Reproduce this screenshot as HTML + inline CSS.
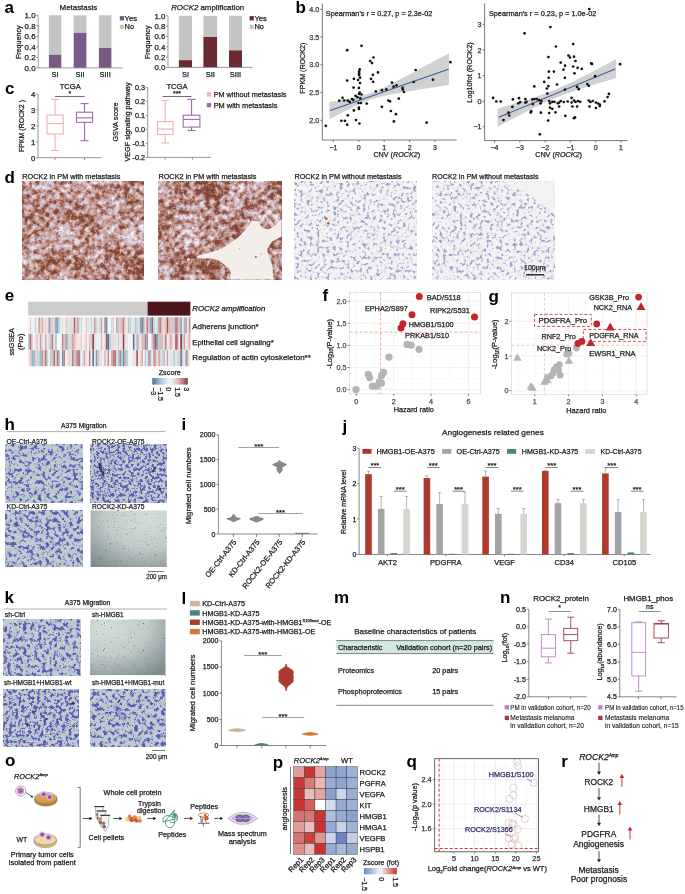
<!DOCTYPE html>
<html><head><meta charset="utf-8"><title>Figure</title>
<style>html,body{margin:0;padding:0;background:#fff;}svg{display:block;will-change:transform;}text{font-family:"Liberation Sans", sans-serif;}</style>
</head><body>
<svg width="685" height="894" viewBox="0 0 685 894" font-family='"Liberation Sans", sans-serif' fill="#1a1a1a">
<defs><filter id="ti0" x="0" y="0" width="1" height="1" color-interpolation-filters="sRGB"><feTurbulence type="fractalNoise" baseFrequency="0.2" numOctaves="3" seed="11"/><feColorMatrix type="matrix" values="1 0 0 0 0 1 0 0 0 0 1 0 0 0 0 0 0 0 0 1" result="g1"/><feTurbulence type="fractalNoise" baseFrequency="0.04" numOctaves="2" seed="111"/><feColorMatrix type="matrix" values="1 0 0 0 0 1 0 0 0 0 1 0 0 0 0 0 0 0 0 1" result="g2"/><feComposite in="g1" in2="g2" operator="arithmetic" k1="0" k2="0.8" k3="0.45" k4="-0.125"/><feColorMatrix type="matrix" values="2.2 0 0 0 -0.490 2.2 0 0 0 -0.490 2.2 0 0 0 -0.490 0 0 0 0 1"/><feComponentTransfer><feFuncR type="table" tableValues="0.949 0.931 0.914 0.896 0.878 0.863 0.847 0.831 0.820 0.808 0.796 0.776 0.757 0.736 0.707 0.679 0.651 0.616 0.580 0.545 0.510"/><feFuncG type="table" tableValues="0.925 0.902 0.878 0.855 0.831 0.805 0.779 0.753 0.719 0.685 0.651 0.612 0.573 0.533 0.494 0.455 0.416 0.378 0.341 0.304 0.267"/><feFuncB type="table" tableValues="0.937 0.921 0.904 0.887 0.871 0.839 0.808 0.776 0.727 0.677 0.627 0.571 0.515 0.462 0.421 0.379 0.337 0.304 0.271 0.237 0.204"/></feComponentTransfer><feGaussianBlur stdDeviation="0.4"/><feComponentTransfer><feFuncA type="linear" slope="0" intercept="1"/></feComponentTransfer></filter><filter id="tin0" x="0" y="0" width="1" height="1" color-interpolation-filters="sRGB"><feTurbulence type="fractalNoise" baseFrequency="0.45" numOctaves="2" seed="40"/><feColorMatrix type="matrix" values="0 0 0 0 0.667 0 0 0 0 0.627 0 0 0 0 0.816 5 0 0 0 -3.0"/></filter><filter id="ti1" x="0" y="0" width="1" height="1" color-interpolation-filters="sRGB"><feTurbulence type="fractalNoise" baseFrequency="0.2" numOctaves="3" seed="18"/><feColorMatrix type="matrix" values="1 0 0 0 0 1 0 0 0 0 1 0 0 0 0 0 0 0 0 1" result="g1"/><feTurbulence type="fractalNoise" baseFrequency="0.04" numOctaves="2" seed="118"/><feColorMatrix type="matrix" values="1 0 0 0 0 1 0 0 0 0 1 0 0 0 0 0 0 0 0 1" result="g2"/><feComposite in="g1" in2="g2" operator="arithmetic" k1="0" k2="0.8" k3="0.45" k4="-0.125"/><feColorMatrix type="matrix" values="2.2 0 0 0 -0.480 2.2 0 0 0 -0.480 2.2 0 0 0 -0.480 0 0 0 0 1"/><feComponentTransfer><feFuncR type="table" tableValues="0.949 0.931 0.914 0.896 0.878 0.863 0.847 0.831 0.820 0.808 0.796 0.776 0.757 0.736 0.707 0.679 0.651 0.616 0.580 0.545 0.510"/><feFuncG type="table" tableValues="0.925 0.902 0.878 0.855 0.831 0.805 0.779 0.753 0.719 0.685 0.651 0.612 0.573 0.533 0.494 0.455 0.416 0.378 0.341 0.304 0.267"/><feFuncB type="table" tableValues="0.937 0.921 0.904 0.887 0.871 0.839 0.808 0.776 0.727 0.677 0.627 0.571 0.515 0.462 0.421 0.379 0.337 0.304 0.271 0.237 0.204"/></feComponentTransfer><feGaussianBlur stdDeviation="0.4"/><feComponentTransfer><feFuncA type="linear" slope="0" intercept="1"/></feComponentTransfer></filter><filter id="tin1" x="0" y="0" width="1" height="1" color-interpolation-filters="sRGB"><feTurbulence type="fractalNoise" baseFrequency="0.45" numOctaves="2" seed="41"/><feColorMatrix type="matrix" values="0 0 0 0 0.667 0 0 0 0 0.627 0 0 0 0 0.816 5 0 0 0 -3.0"/></filter><filter id="ti2" x="0" y="0" width="1" height="1" color-interpolation-filters="sRGB"><feTurbulence type="fractalNoise" baseFrequency="0.3" numOctaves="2" seed="65"/><feColorMatrix type="matrix" values="2.6 0 0 0 -0.880 2.6 0 0 0 -0.880 2.6 0 0 0 -0.880 0 0 0 0 1"/><feComponentTransfer><feFuncR type="table" tableValues="0.965 0.962 0.960 0.958 0.956 0.953 0.951 0.949 0.947 0.944 0.942 0.924 0.894 0.865 0.833 0.799 0.765 0.730 0.696 0.662 0.627"/><feFuncG type="table" tableValues="0.957 0.955 0.952 0.950 0.948 0.946 0.943 0.941 0.939 0.937 0.934 0.917 0.890 0.863 0.834 0.801 0.768 0.735 0.701 0.668 0.635"/><feFuncB type="table" tableValues="0.953 0.952 0.951 0.951 0.950 0.949 0.948 0.948 0.947 0.946 0.945 0.940 0.931 0.923 0.911 0.894 0.876 0.859 0.839 0.820 0.800"/></feComponentTransfer><feGaussianBlur stdDeviation="0.45"/><feComponentTransfer><feFuncA type="linear" slope="0" intercept="1"/></feComponentTransfer></filter><filter id="ti3" x="0" y="0" width="1" height="1" color-interpolation-filters="sRGB"><feTurbulence type="fractalNoise" baseFrequency="0.3" numOctaves="2" seed="72"/><feColorMatrix type="matrix" values="2.6 0 0 0 -0.870 2.6 0 0 0 -0.870 2.6 0 0 0 -0.870 0 0 0 0 1"/><feComponentTransfer><feFuncR type="table" tableValues="0.965 0.962 0.960 0.958 0.956 0.953 0.951 0.949 0.947 0.944 0.942 0.924 0.894 0.865 0.833 0.799 0.765 0.730 0.696 0.662 0.627"/><feFuncG type="table" tableValues="0.957 0.955 0.952 0.950 0.948 0.946 0.943 0.941 0.939 0.937 0.934 0.917 0.890 0.863 0.834 0.801 0.768 0.735 0.701 0.668 0.635"/><feFuncB type="table" tableValues="0.953 0.952 0.951 0.951 0.950 0.949 0.948 0.948 0.947 0.946 0.945 0.940 0.931 0.923 0.911 0.894 0.876 0.859 0.839 0.820 0.800"/></feComponentTransfer><feGaussianBlur stdDeviation="0.45"/><feComponentTransfer><feFuncA type="linear" slope="0" intercept="1"/></feComponentTransfer></filter><linearGradient id="gz" x1="0" x2="1" y1="0" y2="0"><stop offset="0.000" stop-color="#4a6f9a"/><stop offset="0.250" stop-color="#aacad6"/><stop offset="0.500" stop-color="#f6f7f7"/><stop offset="0.750" stop-color="#deb2b2"/><stop offset="1.000" stop-color="#8c3a42"/></linearGradient><filter id="tm0" x="0" y="0" width="1" height="1" color-interpolation-filters="sRGB"><feTurbulence type="fractalNoise" baseFrequency="0.26" numOctaves="3" seed="91"/><feColorMatrix type="matrix" values="3.0 0 0 0 -1.078 3.0 0 0 0 -1.078 3.0 0 0 0 -1.078 0 0 0 0 1"/><feComponentTransfer><feFuncR type="table" tableValues="0.753 0.749 0.745 0.741 0.737 0.733 0.729 0.725 0.722 0.718 0.714 0.679 0.631 0.563 0.522 0.489 0.455 0.431 0.408 0.384 0.361"/><feFuncG type="table" tableValues="0.808 0.805 0.802 0.798 0.795 0.792 0.789 0.786 0.783 0.780 0.776 0.723 0.655 0.567 0.520 0.483 0.447 0.424 0.400 0.376 0.353"/><feFuncB type="table" tableValues="0.820 0.817 0.814 0.811 0.809 0.806 0.803 0.800 0.798 0.795 0.792 0.807 0.812 0.802 0.789 0.775 0.761 0.745 0.729 0.714 0.698"/></feComponentTransfer><feGaussianBlur stdDeviation="0.5"/><feComponentTransfer><feFuncA type="linear" slope="0" intercept="1"/></feComponentTransfer></filter><filter id="tms0" x="0" y="0" width="1" height="1" color-interpolation-filters="sRGB"><feTurbulence type="fractalNoise" baseFrequency="0.9" numOctaves="1" seed="120"/><feColorMatrix type="matrix" values="0 0 0 0 0.275 0 0 0 0 0.275 0 0 0 0 0.471 9 0 0 0 -6.2"/></filter><filter id="tm1" x="0" y="0" width="1" height="1" color-interpolation-filters="sRGB"><feTurbulence type="fractalNoise" baseFrequency="0.35" numOctaves="3" seed="96"/><feColorMatrix type="matrix" values="3.0 0 0 0 -0.974 3.0 0 0 0 -0.974 3.0 0 0 0 -0.974 0 0 0 0 1"/><feComponentTransfer><feFuncR type="table" tableValues="0.753 0.749 0.745 0.741 0.737 0.733 0.729 0.725 0.722 0.718 0.714 0.679 0.631 0.563 0.522 0.489 0.455 0.431 0.408 0.384 0.361"/><feFuncG type="table" tableValues="0.808 0.805 0.802 0.798 0.795 0.792 0.789 0.786 0.783 0.780 0.776 0.723 0.655 0.567 0.520 0.483 0.447 0.424 0.400 0.376 0.353"/><feFuncB type="table" tableValues="0.820 0.817 0.814 0.811 0.809 0.806 0.803 0.800 0.798 0.795 0.792 0.807 0.812 0.802 0.789 0.775 0.761 0.745 0.729 0.714 0.698"/></feComponentTransfer><feGaussianBlur stdDeviation="0.5"/><feComponentTransfer><feFuncA type="linear" slope="0" intercept="1"/></feComponentTransfer></filter><filter id="tms1" x="0" y="0" width="1" height="1" color-interpolation-filters="sRGB"><feTurbulence type="fractalNoise" baseFrequency="0.9" numOctaves="1" seed="121"/><feColorMatrix type="matrix" values="0 0 0 0 0.275 0 0 0 0 0.275 0 0 0 0 0.471 9 0 0 0 -6.2"/></filter><filter id="tm2" x="0" y="0" width="1" height="1" color-interpolation-filters="sRGB"><feTurbulence type="fractalNoise" baseFrequency="0.26" numOctaves="3" seed="101"/><feColorMatrix type="matrix" values="3.0 0 0 0 -1.078 3.0 0 0 0 -1.078 3.0 0 0 0 -1.078 0 0 0 0 1"/><feComponentTransfer><feFuncR type="table" tableValues="0.753 0.749 0.745 0.741 0.737 0.733 0.729 0.725 0.722 0.718 0.714 0.679 0.631 0.563 0.522 0.489 0.455 0.431 0.408 0.384 0.361"/><feFuncG type="table" tableValues="0.808 0.805 0.802 0.798 0.795 0.792 0.789 0.786 0.783 0.780 0.776 0.723 0.655 0.567 0.520 0.483 0.447 0.424 0.400 0.376 0.353"/><feFuncB type="table" tableValues="0.820 0.817 0.814 0.811 0.809 0.806 0.803 0.800 0.798 0.795 0.792 0.807 0.812 0.802 0.789 0.775 0.761 0.745 0.729 0.714 0.698"/></feComponentTransfer><feGaussianBlur stdDeviation="0.5"/><feComponentTransfer><feFuncA type="linear" slope="0" intercept="1"/></feComponentTransfer></filter><filter id="tms2" x="0" y="0" width="1" height="1" color-interpolation-filters="sRGB"><feTurbulence type="fractalNoise" baseFrequency="0.9" numOctaves="1" seed="122"/><feColorMatrix type="matrix" values="0 0 0 0 0.275 0 0 0 0 0.275 0 0 0 0 0.471 9 0 0 0 -6.2"/></filter><radialGradient id="gm3" cx="0.75" cy="0.1" r="1.1"><stop offset="0" stop-color="#d4ddd9"/><stop offset="0.5" stop-color="#c2cdca"/><stop offset="1" stop-color="#7e8c8c"/></radialGradient><filter id="nm3a" x="0" y="0" width="1" height="1" color-interpolation-filters="sRGB"><feTurbulence type="fractalNoise" baseFrequency="0.7" numOctaves="1" seed="73"/><feColorMatrix type="matrix" values="0 0 0 0 0.471 0 0 0 0 0.471 0 0 0 0 0.745 7 0 0 0 -4.7"/></filter><filter id="nm3b" x="0" y="0" width="1" height="1" color-interpolation-filters="sRGB"><feTurbulence type="fractalNoise" baseFrequency="0.6" numOctaves="1" seed="83"/><feColorMatrix type="matrix" values="0 0 0 0 0.196 0 0 0 0 0.196 0 0 0 0 0.275 8 0 0 0 -5.8"/></filter><filter id="tm4" x="0" y="0" width="1" height="1" color-interpolation-filters="sRGB"><feTurbulence type="fractalNoise" baseFrequency="0.26" numOctaves="3" seed="111"/><feColorMatrix type="matrix" values="3.0 0 0 0 -1.078 3.0 0 0 0 -1.078 3.0 0 0 0 -1.078 0 0 0 0 1"/><feComponentTransfer><feFuncR type="table" tableValues="0.753 0.749 0.745 0.741 0.737 0.733 0.729 0.725 0.722 0.718 0.714 0.679 0.631 0.563 0.522 0.489 0.455 0.431 0.408 0.384 0.361"/><feFuncG type="table" tableValues="0.808 0.805 0.802 0.798 0.795 0.792 0.789 0.786 0.783 0.780 0.776 0.723 0.655 0.567 0.520 0.483 0.447 0.424 0.400 0.376 0.353"/><feFuncB type="table" tableValues="0.820 0.817 0.814 0.811 0.809 0.806 0.803 0.800 0.798 0.795 0.792 0.807 0.812 0.802 0.789 0.775 0.761 0.745 0.729 0.714 0.698"/></feComponentTransfer><feGaussianBlur stdDeviation="0.5"/><feComponentTransfer><feFuncA type="linear" slope="0" intercept="1"/></feComponentTransfer></filter><filter id="tms4" x="0" y="0" width="1" height="1" color-interpolation-filters="sRGB"><feTurbulence type="fractalNoise" baseFrequency="0.9" numOctaves="1" seed="124"/><feColorMatrix type="matrix" values="0 0 0 0 0.275 0 0 0 0 0.275 0 0 0 0 0.471 9 0 0 0 -6.2"/></filter><radialGradient id="gm5" cx="0.2" cy="0.1" r="1.1"><stop offset="0" stop-color="#d4ddd9"/><stop offset="0.5" stop-color="#c2cdca"/><stop offset="1" stop-color="#7e8c8c"/></radialGradient><filter id="nm5a" x="0" y="0" width="1" height="1" color-interpolation-filters="sRGB"><feTurbulence type="fractalNoise" baseFrequency="0.7" numOctaves="1" seed="75"/><feColorMatrix type="matrix" values="0 0 0 0 0.471 0 0 0 0 0.471 0 0 0 0 0.745 7 0 0 0 -4.7"/></filter><filter id="nm5b" x="0" y="0" width="1" height="1" color-interpolation-filters="sRGB"><feTurbulence type="fractalNoise" baseFrequency="0.6" numOctaves="1" seed="85"/><feColorMatrix type="matrix" values="0 0 0 0 0.196 0 0 0 0 0.196 0 0 0 0 0.275 8 0 0 0 -5.8"/></filter><filter id="tm6" x="0" y="0" width="1" height="1" color-interpolation-filters="sRGB"><feTurbulence type="fractalNoise" baseFrequency="0.32" numOctaves="3" seed="121"/><feColorMatrix type="matrix" values="3.0 0 0 0 -0.997 3.0 0 0 0 -0.997 3.0 0 0 0 -0.997 0 0 0 0 1"/><feComponentTransfer><feFuncR type="table" tableValues="0.753 0.749 0.745 0.741 0.737 0.733 0.729 0.725 0.722 0.718 0.714 0.679 0.631 0.563 0.522 0.489 0.455 0.431 0.408 0.384 0.361"/><feFuncG type="table" tableValues="0.808 0.805 0.802 0.798 0.795 0.792 0.789 0.786 0.783 0.780 0.776 0.723 0.655 0.567 0.520 0.483 0.447 0.424 0.400 0.376 0.353"/><feFuncB type="table" tableValues="0.820 0.817 0.814 0.811 0.809 0.806 0.803 0.800 0.798 0.795 0.792 0.807 0.812 0.802 0.789 0.775 0.761 0.745 0.729 0.714 0.698"/></feComponentTransfer><feGaussianBlur stdDeviation="0.5"/><feComponentTransfer><feFuncA type="linear" slope="0" intercept="1"/></feComponentTransfer></filter><filter id="tms6" x="0" y="0" width="1" height="1" color-interpolation-filters="sRGB"><feTurbulence type="fractalNoise" baseFrequency="0.9" numOctaves="1" seed="126"/><feColorMatrix type="matrix" values="0 0 0 0 0.275 0 0 0 0 0.275 0 0 0 0 0.471 9 0 0 0 -6.2"/></filter><filter id="tm7" x="0" y="0" width="1" height="1" color-interpolation-filters="sRGB"><feTurbulence type="fractalNoise" baseFrequency="0.26" numOctaves="3" seed="126"/><feColorMatrix type="matrix" values="3.0 0 0 0 -1.078 3.0 0 0 0 -1.078 3.0 0 0 0 -1.078 0 0 0 0 1"/><feComponentTransfer><feFuncR type="table" tableValues="0.753 0.749 0.745 0.741 0.737 0.733 0.729 0.725 0.722 0.718 0.714 0.679 0.631 0.563 0.522 0.489 0.455 0.431 0.408 0.384 0.361"/><feFuncG type="table" tableValues="0.808 0.805 0.802 0.798 0.795 0.792 0.789 0.786 0.783 0.780 0.776 0.723 0.655 0.567 0.520 0.483 0.447 0.424 0.400 0.376 0.353"/><feFuncB type="table" tableValues="0.820 0.817 0.814 0.811 0.809 0.806 0.803 0.800 0.798 0.795 0.792 0.807 0.812 0.802 0.789 0.775 0.761 0.745 0.729 0.714 0.698"/></feComponentTransfer><feGaussianBlur stdDeviation="0.5"/><feComponentTransfer><feFuncA type="linear" slope="0" intercept="1"/></feComponentTransfer></filter><filter id="tms7" x="0" y="0" width="1" height="1" color-interpolation-filters="sRGB"><feTurbulence type="fractalNoise" baseFrequency="0.9" numOctaves="1" seed="127"/><feColorMatrix type="matrix" values="0 0 0 0 0.275 0 0 0 0 0.275 0 0 0 0 0.471 9 0 0 0 -6.2"/></filter><linearGradient id="gp" x1="0" x2="1"><stop offset="0" stop-color="#6a8bc6"/><stop offset="0.5" stop-color="#f7f7f7"/><stop offset="1" stop-color="#cc3333"/></linearGradient></defs>
<text x="4.6" y="13.2" font-size="17" fill="#000" font-weight="bold">a</text>
<text x="59.6" y="9.9" font-size="7.9" stroke="#1a1a1a" stroke-width="0.25" textLength="37.7" lengthAdjust="spacingAndGlyphs">Metastasis</text>
<line x1="38.2" y1="15.3" x2="38.2" y2="67.9" stroke="#8c8c8c" stroke-width="0.9"/>
<line x1="36.2" y1="67.9" x2="38.2" y2="67.9" stroke="#8c8c8c" stroke-width="0.9"/>
<text x="35.6" y="70.74" font-size="7.9" text-anchor="end" stroke="#1a1a1a" stroke-width="0.25">0.0</text>
<line x1="36.2" y1="57.38" x2="38.2" y2="57.38" stroke="#8c8c8c" stroke-width="0.9"/>
<text x="35.6" y="60.22" font-size="7.9" text-anchor="end" stroke="#1a1a1a" stroke-width="0.25">0.2</text>
<line x1="36.2" y1="46.86" x2="38.2" y2="46.86" stroke="#8c8c8c" stroke-width="0.9"/>
<text x="35.6" y="49.7" font-size="7.9" text-anchor="end" stroke="#1a1a1a" stroke-width="0.25">0.4</text>
<line x1="36.2" y1="36.34" x2="38.2" y2="36.34" stroke="#8c8c8c" stroke-width="0.9"/>
<text x="35.6" y="39.18" font-size="7.9" text-anchor="end" stroke="#1a1a1a" stroke-width="0.25">0.6</text>
<line x1="36.2" y1="25.82" x2="38.2" y2="25.82" stroke="#8c8c8c" stroke-width="0.9"/>
<text x="35.6" y="28.66" font-size="7.9" text-anchor="end" stroke="#1a1a1a" stroke-width="0.25">0.8</text>
<line x1="36.2" y1="15.3" x2="38.2" y2="15.3" stroke="#8c8c8c" stroke-width="0.9"/>
<text x="35.6" y="18.14" font-size="7.9" text-anchor="end" stroke="#1a1a1a" stroke-width="0.25">1.0</text>
<text x="20.6" y="42.3" font-size="7.2" text-anchor="middle" stroke="#1a1a1a" stroke-width="0.25" transform="rotate(-90 20.6 42.3)" textLength="33.6" lengthAdjust="spacingAndGlyphs">Frequency</text>
<rect x="48.9" y="15.3" width="12.4" height="39.45" fill="#c4c4c4"/>
<rect x="48.9" y="54.75" width="12.4" height="13.15" fill="#7a5a85"/>
<text x="55.1" y="77" font-size="7.5" text-anchor="middle" stroke="#1a1a1a" stroke-width="0.25">SI</text>
<rect x="73.7" y="15.3" width="12.7" height="17.52" fill="#c4c4c4"/>
<rect x="73.7" y="32.82" width="12.7" height="35.08" fill="#7a5a85"/>
<text x="80.05" y="77" font-size="7.5" text-anchor="middle" stroke="#1a1a1a" stroke-width="0.25">SII</text>
<rect x="98.9" y="15.3" width="12.5" height="32.61" fill="#c4c4c4"/>
<rect x="98.9" y="47.91" width="12.5" height="19.99" fill="#7a5a85"/>
<text x="105.15" y="77" font-size="7.5" text-anchor="middle" stroke="#1a1a1a" stroke-width="0.25">SIII</text>
<line x1="38.2" y1="67.9" x2="122.6" y2="67.9" stroke="#8c8c8c" stroke-width="0.9"/>
<rect x="119.8" y="16.1" width="4.2" height="4.3" fill="#7a5a85"/>
<text x="124.6" y="20.6" font-size="7.4" stroke="#1a1a1a" stroke-width="0.25" textLength="12.6" lengthAdjust="spacingAndGlyphs">Yes</text>
<rect x="119.8" y="24.8" width="4.2" height="4.3" fill="#c4c4c4"/>
<text x="124.6" y="29.3" font-size="7.4" stroke="#1a1a1a" stroke-width="0.25">No</text>
<text x="171.2" y="9.9" font-size="7.9" stroke="#1a1a1a" stroke-width="0.25" textLength="73" lengthAdjust="spacingAndGlyphs"><tspan font-style="italic">ROCK2</tspan> amplification</text>
<line x1="168" y1="15.8" x2="168" y2="67.4" stroke="#8c8c8c" stroke-width="0.9"/>
<line x1="166" y1="67.4" x2="168" y2="67.4" stroke="#8c8c8c" stroke-width="0.9"/>
<text x="165.4" y="70.24" font-size="7.9" text-anchor="end" stroke="#1a1a1a" stroke-width="0.25">0.0</text>
<line x1="166" y1="57.08" x2="168" y2="57.08" stroke="#8c8c8c" stroke-width="0.9"/>
<text x="165.4" y="59.92" font-size="7.9" text-anchor="end" stroke="#1a1a1a" stroke-width="0.25">0.2</text>
<line x1="166" y1="46.76" x2="168" y2="46.76" stroke="#8c8c8c" stroke-width="0.9"/>
<text x="165.4" y="49.6" font-size="7.9" text-anchor="end" stroke="#1a1a1a" stroke-width="0.25">0.4</text>
<line x1="166" y1="36.44" x2="168" y2="36.44" stroke="#8c8c8c" stroke-width="0.9"/>
<text x="165.4" y="39.28" font-size="7.9" text-anchor="end" stroke="#1a1a1a" stroke-width="0.25">0.6</text>
<line x1="166" y1="26.12" x2="168" y2="26.12" stroke="#8c8c8c" stroke-width="0.9"/>
<text x="165.4" y="28.96" font-size="7.9" text-anchor="end" stroke="#1a1a1a" stroke-width="0.25">0.8</text>
<line x1="166" y1="15.8" x2="168" y2="15.8" stroke="#8c8c8c" stroke-width="0.9"/>
<text x="165.4" y="18.64" font-size="7.9" text-anchor="end" stroke="#1a1a1a" stroke-width="0.25">1.0</text>
<text x="150.2" y="42.3" font-size="7.2" text-anchor="middle" stroke="#1a1a1a" stroke-width="0.25" transform="rotate(-90 150.2 42.3)" textLength="33.6" lengthAdjust="spacingAndGlyphs">Frequency</text>
<rect x="178.9" y="15.8" width="13.1" height="44.38" fill="#c4c4c4"/>
<rect x="178.9" y="60.18" width="13.1" height="7.22" fill="#6b2b33"/>
<text x="185.45" y="77" font-size="7.5" text-anchor="middle" stroke="#1a1a1a" stroke-width="0.25">SI</text>
<rect x="203.4" y="15.8" width="13.7" height="21.16" fill="#c4c4c4"/>
<rect x="203.4" y="36.96" width="13.7" height="30.44" fill="#6b2b33"/>
<text x="210.25" y="77" font-size="7.5" text-anchor="middle" stroke="#1a1a1a" stroke-width="0.25">SII</text>
<rect x="229" y="15.8" width="13" height="34.57" fill="#c4c4c4"/>
<rect x="229" y="50.37" width="13" height="17.03" fill="#6b2b33"/>
<text x="235.5" y="77" font-size="7.5" text-anchor="middle" stroke="#1a1a1a" stroke-width="0.25">SIII</text>
<line x1="168" y1="67.4" x2="252.5" y2="67.4" stroke="#8c8c8c" stroke-width="0.9"/>
<rect x="249.6" y="16.1" width="4.2" height="4.3" fill="#6b2b33"/>
<text x="254.4" y="20.6" font-size="7.4" stroke="#1a1a1a" stroke-width="0.25" textLength="12.6" lengthAdjust="spacingAndGlyphs">Yes</text>
<rect x="249.6" y="24.8" width="4.2" height="4.3" fill="#c4c4c4"/>
<text x="254.4" y="29.3" font-size="7.4" stroke="#1a1a1a" stroke-width="0.25">No</text>
<text x="295.6" y="13.4" font-size="17" fill="#000" font-weight="bold">b</text>
<path d="M329.5,102.05 L334.48,101.21 L339.46,100.34 L344.44,99.44 L349.42,98.5 L354.4,97.47 L359.38,96.34 L364.35,95.02 L369.33,93.47 L374.31,91.63 L379.29,89.53 L384.27,87.24 L389.25,84.82 L394.23,82.32 L399.21,79.76 L404.19,77.16 L409.17,74.54 L414.15,71.91 L419.12,69.25 L424.1,66.59 L429.08,63.92 L434.06,61.25 L439.04,58.57 L444.02,55.88 L449,53.2 L449,84.85 L444.02,85.64 L439.04,86.42 L434.06,87.21 L429.08,88 L424.1,88.8 L419.12,89.61 L414.15,90.42 L409.17,91.25 L404.19,92.1 L399.21,92.97 L394.23,93.88 L389.25,94.85 L384.27,95.89 L379.29,97.07 L374.31,98.44 L369.33,100.07 L364.35,101.99 L359.38,104.14 L354.4,106.47 L349.42,108.92 L344.44,111.44 L339.46,114.01 L334.48,116.61 L329.5,119.24 Z" fill="#d1d1d1"/>
<line x1="330.2" y1="110.4" x2="448.5" y2="69.2" stroke="#3b5ba5" stroke-width="1.1"/>
<circle cx="361.5" cy="45.8" r="1.35" fill="#111"/>
<circle cx="347.2" cy="50.2" r="1.35" fill="#111"/>
<circle cx="373.5" cy="57.5" r="1.35" fill="#111"/>
<circle cx="370.2" cy="61" r="1.35" fill="#111"/>
<circle cx="372" cy="63.1" r="1.35" fill="#111"/>
<circle cx="359.7" cy="69.4" r="1.35" fill="#111"/>
<circle cx="359.1" cy="71.5" r="1.35" fill="#111"/>
<circle cx="359.1" cy="73.3" r="1.35" fill="#111"/>
<circle cx="359.1" cy="75" r="1.35" fill="#111"/>
<circle cx="378" cy="72.4" r="1.35" fill="#111"/>
<circle cx="372.9" cy="74.8" r="1.35" fill="#111"/>
<circle cx="353.9" cy="78.8" r="1.35" fill="#111"/>
<circle cx="360" cy="77.7" r="1.35" fill="#111"/>
<circle cx="358" cy="80" r="1.35" fill="#111"/>
<circle cx="347.2" cy="80.6" r="1.35" fill="#111"/>
<circle cx="371" cy="78.8" r="1.35" fill="#111"/>
<circle cx="373.1" cy="81.8" r="1.35" fill="#111"/>
<circle cx="360" cy="83" r="1.35" fill="#111"/>
<circle cx="353.6" cy="87.6" r="1.35" fill="#111"/>
<circle cx="358.9" cy="87.9" r="1.35" fill="#111"/>
<circle cx="392" cy="82.6" r="1.35" fill="#111"/>
<circle cx="393.6" cy="86.7" r="1.35" fill="#111"/>
<circle cx="396.5" cy="85.3" r="1.35" fill="#111"/>
<circle cx="375.8" cy="91.4" r="1.35" fill="#111"/>
<circle cx="381.9" cy="90.2" r="1.35" fill="#111"/>
<circle cx="386.3" cy="89.4" r="1.35" fill="#111"/>
<circle cx="359.7" cy="92.6" r="1.35" fill="#111"/>
<circle cx="359.1" cy="94" r="1.35" fill="#111"/>
<circle cx="361.5" cy="94.5" r="1.35" fill="#111"/>
<circle cx="355.6" cy="95.8" r="1.35" fill="#111"/>
<circle cx="342.5" cy="97.8" r="1.35" fill="#111"/>
<circle cx="339.3" cy="100.7" r="1.35" fill="#111"/>
<circle cx="344.2" cy="100.5" r="1.35" fill="#111"/>
<circle cx="347.8" cy="100.7" r="1.35" fill="#111"/>
<circle cx="349.8" cy="101.9" r="1.35" fill="#111"/>
<circle cx="352.1" cy="99" r="1.35" fill="#111"/>
<circle cx="353.3" cy="100.1" r="1.35" fill="#111"/>
<circle cx="357.4" cy="97.2" r="1.35" fill="#111"/>
<circle cx="360.3" cy="98.4" r="1.35" fill="#111"/>
<circle cx="358.5" cy="103" r="1.35" fill="#111"/>
<circle cx="360.9" cy="103" r="1.35" fill="#111"/>
<circle cx="366.7" cy="103.6" r="1.35" fill="#111"/>
<circle cx="388.3" cy="100.5" r="1.35" fill="#111"/>
<circle cx="390" cy="101.3" r="1.35" fill="#111"/>
<circle cx="398.8" cy="98.6" r="1.35" fill="#111"/>
<circle cx="381.9" cy="106.8" r="1.35" fill="#111"/>
<circle cx="358.9" cy="107.5" r="1.35" fill="#111"/>
<circle cx="358.9" cy="108.9" r="1.35" fill="#111"/>
<circle cx="353.9" cy="110.4" r="1.35" fill="#111"/>
<circle cx="347.8" cy="115.3" r="1.35" fill="#111"/>
<circle cx="390.9" cy="111" r="1.35" fill="#111"/>
<circle cx="395.9" cy="114.2" r="1.35" fill="#111"/>
<circle cx="341.4" cy="120.8" r="1.35" fill="#111"/>
<circle cx="344.9" cy="120.8" r="1.35" fill="#111"/>
<circle cx="356" cy="120" r="1.35" fill="#111"/>
<circle cx="347.2" cy="124.7" r="1.35" fill="#111"/>
<circle cx="359.4" cy="123.5" r="1.35" fill="#111"/>
<circle cx="325.8" cy="125.8" r="1.35" fill="#111"/>
<circle cx="393.9" cy="121.4" r="1.35" fill="#111"/>
<circle cx="450.4" cy="62.2" r="1.35" fill="#111"/>
<circle cx="415.7" cy="70" r="1.35" fill="#111"/>
<circle cx="432.9" cy="79.7" r="1.35" fill="#111"/>
<circle cx="413.7" cy="82" r="1.35" fill="#111"/>
<circle cx="402.6" cy="87.9" r="1.35" fill="#111"/>
<circle cx="402.8" cy="89.6" r="1.35" fill="#111"/>
<circle cx="404" cy="92" r="1.35" fill="#111"/>
<circle cx="426.6" cy="122.7" r="1.35" fill="#111"/>
<line x1="322.3" y1="3.5" x2="322.3" y2="140" stroke="#555" stroke-width="0.8"/>
<line x1="322.3" y1="140" x2="456.6" y2="140" stroke="#555" stroke-width="0.8"/>
<line x1="320.3" y1="120.3" x2="322.3" y2="120.3" stroke="#555" stroke-width="0.8"/>
<text x="319.3" y="122.9" font-size="7.2" text-anchor="end" fill="#333" stroke="#333" stroke-width="0.25">2.0</text>
<line x1="320.3" y1="92.55" x2="322.3" y2="92.55" stroke="#555" stroke-width="0.8"/>
<text x="319.3" y="95.15" font-size="7.2" text-anchor="end" fill="#333" stroke="#333" stroke-width="0.25">2.5</text>
<line x1="320.3" y1="64.8" x2="322.3" y2="64.8" stroke="#555" stroke-width="0.8"/>
<text x="319.3" y="67.4" font-size="7.2" text-anchor="end" fill="#333" stroke="#333" stroke-width="0.25">3.0</text>
<line x1="320.3" y1="37.05" x2="322.3" y2="37.05" stroke="#555" stroke-width="0.8"/>
<text x="319.3" y="39.65" font-size="7.2" text-anchor="end" fill="#333" stroke="#333" stroke-width="0.25">3.5</text>
<line x1="320.3" y1="9.3" x2="322.3" y2="9.3" stroke="#555" stroke-width="0.8"/>
<text x="319.3" y="11.9" font-size="7.2" text-anchor="end" fill="#333" stroke="#333" stroke-width="0.25">4.0</text>
<line x1="333.4" y1="140" x2="333.4" y2="142" stroke="#555" stroke-width="0.8"/>
<text x="333.4" y="150" font-size="7" text-anchor="middle" fill="#333" stroke="#333" stroke-width="0.25">−1</text>
<line x1="358.8" y1="140" x2="358.8" y2="142" stroke="#555" stroke-width="0.8"/>
<text x="358.8" y="150" font-size="7" text-anchor="middle" fill="#333" stroke="#333" stroke-width="0.25">0</text>
<line x1="384.2" y1="140" x2="384.2" y2="142" stroke="#555" stroke-width="0.8"/>
<text x="384.2" y="150" font-size="7" text-anchor="middle" fill="#333" stroke="#333" stroke-width="0.25">1</text>
<line x1="409.6" y1="140" x2="409.6" y2="142" stroke="#555" stroke-width="0.8"/>
<text x="409.6" y="150" font-size="7" text-anchor="middle" fill="#333" stroke="#333" stroke-width="0.25">2</text>
<line x1="435" y1="140" x2="435" y2="142" stroke="#555" stroke-width="0.8"/>
<text x="435" y="150" font-size="7" text-anchor="middle" fill="#333" stroke="#333" stroke-width="0.25">3</text>
<text x="325.8" y="16.2" font-size="7.2" stroke="#1a1a1a" stroke-width="0.25" textLength="106.6" lengthAdjust="spacingAndGlyphs">Spearman's r = 0.27, p = 2.3e-02</text>
<text x="305" y="68.2" font-size="7.4" text-anchor="middle" fill="#222" stroke="#222" stroke-width="0.25" transform="rotate(-90 305 68.2)" textLength="51" lengthAdjust="spacingAndGlyphs">FPKM (ROCK2)</text>
<text x="396.8" y="157.4" font-size="7.2" text-anchor="middle" fill="#222" stroke="#222" stroke-width="0.25">CNV (<tspan font-style="italic">ROCK2</tspan>)</text>
<path d="M497.5,108.79 L502.44,107.33 L507.38,105.86 L512.31,104.37 L517.25,102.86 L522.19,101.32 L527.12,99.75 L532.06,98.13 L537,96.45 L541.94,94.7 L546.88,92.87 L551.81,90.94 L556.75,88.91 L561.69,86.76 L566.62,84.52 L571.56,82.18 L576.5,79.77 L581.44,77.3 L586.38,74.78 L591.31,72.23 L596.25,69.64 L601.19,67.03 L606.12,64.4 L611.06,61.76 L616,59.1 L616,78.07 L611.06,79.52 L606.12,80.98 L601.19,82.45 L596.25,83.95 L591.31,85.46 L586.38,87.01 L581.44,88.6 L576.5,90.23 L571.56,91.93 L566.62,93.7 L561.69,95.56 L556.75,97.52 L551.81,99.59 L546.88,101.76 L541.94,104.03 L537,106.39 L532.06,108.82 L527.12,111.31 L522.19,113.84 L517.25,116.4 L512.31,119 L507.38,121.61 L502.44,124.25 L497.5,126.89 Z" fill="#d1d1d1"/>
<line x1="498.8" y1="117.3" x2="615" y2="69" stroke="#3b5ba5" stroke-width="1.1"/>
<circle cx="550.4" cy="27.1" r="1.35" fill="#111"/>
<circle cx="524.6" cy="33.3" r="1.35" fill="#111"/>
<circle cx="555.9" cy="46.5" r="1.35" fill="#111"/>
<circle cx="548.4" cy="57.1" r="1.35" fill="#111"/>
<circle cx="548.9" cy="71.6" r="1.35" fill="#111"/>
<circle cx="553.9" cy="71.6" r="1.35" fill="#111"/>
<circle cx="548.7" cy="77.8" r="1.35" fill="#111"/>
<circle cx="544.2" cy="81.9" r="1.35" fill="#111"/>
<circle cx="557" cy="84.5" r="1.35" fill="#111"/>
<circle cx="548.4" cy="86.1" r="1.35" fill="#111"/>
<circle cx="546.8" cy="88.5" r="1.35" fill="#111"/>
<circle cx="534.3" cy="86.4" r="1.35" fill="#111"/>
<circle cx="547.3" cy="93.5" r="1.35" fill="#111"/>
<circle cx="493.1" cy="97.9" r="1.35" fill="#111"/>
<circle cx="496.3" cy="101.5" r="1.35" fill="#111"/>
<circle cx="500.7" cy="101.5" r="1.35" fill="#111"/>
<circle cx="512.9" cy="99.4" r="1.35" fill="#111"/>
<circle cx="519" cy="98.2" r="1.35" fill="#111"/>
<circle cx="518.3" cy="103.3" r="1.35" fill="#111"/>
<circle cx="520.2" cy="102.1" r="1.35" fill="#111"/>
<circle cx="525.4" cy="99" r="1.35" fill="#111"/>
<circle cx="525.4" cy="102.6" r="1.35" fill="#111"/>
<circle cx="526.5" cy="101.8" r="1.35" fill="#111"/>
<circle cx="532.4" cy="99.4" r="1.35" fill="#111"/>
<circle cx="534.3" cy="99" r="1.35" fill="#111"/>
<circle cx="532.8" cy="104.1" r="1.35" fill="#111"/>
<circle cx="536.7" cy="99" r="1.35" fill="#111"/>
<circle cx="539" cy="100.2" r="1.35" fill="#111"/>
<circle cx="540.6" cy="103.3" r="1.35" fill="#111"/>
<circle cx="541.4" cy="101" r="1.35" fill="#111"/>
<circle cx="512.4" cy="106.9" r="1.35" fill="#111"/>
<circle cx="549.2" cy="101" r="1.35" fill="#111"/>
<circle cx="550" cy="103.3" r="1.35" fill="#111"/>
<circle cx="552.3" cy="101.8" r="1.35" fill="#111"/>
<circle cx="554.4" cy="101.8" r="1.35" fill="#111"/>
<circle cx="557.8" cy="103.3" r="1.35" fill="#111"/>
<circle cx="508.5" cy="112.7" r="1.35" fill="#111"/>
<circle cx="509.3" cy="115.5" r="1.35" fill="#111"/>
<circle cx="503.5" cy="120.1" r="1.35" fill="#111"/>
<circle cx="531.2" cy="111.2" r="1.35" fill="#111"/>
<circle cx="530.7" cy="112.4" r="1.35" fill="#111"/>
<circle cx="540.9" cy="112.7" r="1.35" fill="#111"/>
<circle cx="549.2" cy="113" r="1.35" fill="#111"/>
<circle cx="555.5" cy="112.3" r="1.35" fill="#111"/>
<circle cx="550" cy="107.7" r="1.35" fill="#111"/>
<circle cx="552.3" cy="108.8" r="1.35" fill="#111"/>
<circle cx="548.1" cy="120.6" r="1.35" fill="#111"/>
<circle cx="539.8" cy="134.3" r="1.35" fill="#111"/>
<circle cx="589.3" cy="9.1" r="1.35" fill="#111"/>
<circle cx="573.2" cy="44.1" r="1.35" fill="#111"/>
<circle cx="568.5" cy="55.6" r="1.35" fill="#111"/>
<circle cx="570" cy="57.5" r="1.35" fill="#111"/>
<circle cx="574" cy="56.7" r="1.35" fill="#111"/>
<circle cx="575.5" cy="61" r="1.35" fill="#111"/>
<circle cx="560.7" cy="62.6" r="1.35" fill="#111"/>
<circle cx="565" cy="65.7" r="1.35" fill="#111"/>
<circle cx="563.5" cy="69.7" r="1.35" fill="#111"/>
<circle cx="573.2" cy="66.5" r="1.35" fill="#111"/>
<circle cx="577.6" cy="67.8" r="1.35" fill="#111"/>
<circle cx="581.8" cy="68.9" r="1.35" fill="#111"/>
<circle cx="591.2" cy="63.4" r="1.35" fill="#111"/>
<circle cx="592" cy="63.9" r="1.35" fill="#111"/>
<circle cx="620.1" cy="64.2" r="1.35" fill="#111"/>
<circle cx="574.4" cy="73.3" r="1.35" fill="#111"/>
<circle cx="564.9" cy="77.8" r="1.35" fill="#111"/>
<circle cx="595.1" cy="76.2" r="1.35" fill="#111"/>
<circle cx="577.1" cy="86.9" r="1.35" fill="#111"/>
<circle cx="578.7" cy="89.2" r="1.35" fill="#111"/>
<circle cx="587.3" cy="84.1" r="1.35" fill="#111"/>
<circle cx="588.8" cy="85.8" r="1.35" fill="#111"/>
<circle cx="565" cy="89.5" r="1.35" fill="#111"/>
<circle cx="608.9" cy="93.9" r="1.35" fill="#111"/>
<circle cx="607.6" cy="97.1" r="1.35" fill="#111"/>
<circle cx="604.5" cy="101.4" r="1.35" fill="#111"/>
<circle cx="560.7" cy="101" r="1.35" fill="#111"/>
<circle cx="563.8" cy="102" r="1.35" fill="#111"/>
<circle cx="567.7" cy="101.5" r="1.35" fill="#111"/>
<circle cx="571.6" cy="102.5" r="1.35" fill="#111"/>
<circle cx="574" cy="100.5" r="1.35" fill="#111"/>
<circle cx="575.5" cy="102" r="1.35" fill="#111"/>
<circle cx="577.9" cy="101" r="1.35" fill="#111"/>
<circle cx="580.2" cy="101.8" r="1.35" fill="#111"/>
<circle cx="588.8" cy="100.5" r="1.35" fill="#111"/>
<circle cx="590.4" cy="102" r="1.35" fill="#111"/>
<circle cx="592.7" cy="101" r="1.35" fill="#111"/>
<circle cx="595.9" cy="102.5" r="1.35" fill="#111"/>
<circle cx="598.2" cy="103.5" r="1.35" fill="#111"/>
<circle cx="599.8" cy="104.5" r="1.35" fill="#111"/>
<circle cx="559.1" cy="106.5" r="1.35" fill="#111"/>
<circle cx="572.4" cy="106.5" r="1.35" fill="#111"/>
<circle cx="577.1" cy="106.5" r="1.35" fill="#111"/>
<circle cx="589.6" cy="106.5" r="1.35" fill="#111"/>
<circle cx="595.9" cy="108" r="1.35" fill="#111"/>
<circle cx="599.8" cy="106.1" r="1.35" fill="#111"/>
<circle cx="565.4" cy="115.8" r="1.35" fill="#111"/>
<circle cx="574" cy="118.2" r="1.35" fill="#111"/>
<circle cx="575" cy="117.4" r="1.35" fill="#111"/>
<circle cx="571.6" cy="97.8" r="1.35" fill="#111"/>
<circle cx="559.1" cy="102.5" r="1.35" fill="#111"/>
<line x1="484.6" y1="3.3" x2="484.6" y2="140.6" stroke="#555" stroke-width="0.8"/>
<line x1="484.6" y1="140.6" x2="627.5" y2="140.6" stroke="#555" stroke-width="0.8"/>
<line x1="482.6" y1="126.8" x2="484.6" y2="126.8" stroke="#555" stroke-width="0.8"/>
<text x="481.6" y="129.4" font-size="7.2" text-anchor="end" fill="#333" stroke="#333" stroke-width="0.25">−1</text>
<line x1="482.6" y1="101.2" x2="484.6" y2="101.2" stroke="#555" stroke-width="0.8"/>
<text x="481.6" y="103.8" font-size="7.2" text-anchor="end" fill="#333" stroke="#333" stroke-width="0.25">0</text>
<line x1="482.6" y1="75.6" x2="484.6" y2="75.6" stroke="#555" stroke-width="0.8"/>
<text x="481.6" y="78.2" font-size="7.2" text-anchor="end" fill="#333" stroke="#333" stroke-width="0.25">1</text>
<line x1="482.6" y1="50" x2="484.6" y2="50" stroke="#555" stroke-width="0.8"/>
<text x="481.6" y="52.6" font-size="7.2" text-anchor="end" fill="#333" stroke="#333" stroke-width="0.25">2</text>
<line x1="482.6" y1="24.4" x2="484.6" y2="24.4" stroke="#555" stroke-width="0.8"/>
<text x="481.6" y="27" font-size="7.2" text-anchor="end" fill="#333" stroke="#333" stroke-width="0.25">3</text>
<line x1="494.5" y1="140.6" x2="494.5" y2="142.6" stroke="#555" stroke-width="0.8"/>
<text x="494.5" y="150" font-size="7" text-anchor="middle" fill="#333" stroke="#333" stroke-width="0.25">−4</text>
<line x1="519.8" y1="140.6" x2="519.8" y2="142.6" stroke="#555" stroke-width="0.8"/>
<text x="519.8" y="150" font-size="7" text-anchor="middle" fill="#333" stroke="#333" stroke-width="0.25">−3</text>
<line x1="545.1" y1="140.6" x2="545.1" y2="142.6" stroke="#555" stroke-width="0.8"/>
<text x="545.1" y="150" font-size="7" text-anchor="middle" fill="#333" stroke="#333" stroke-width="0.25">−2</text>
<line x1="570.4" y1="140.6" x2="570.4" y2="142.6" stroke="#555" stroke-width="0.8"/>
<text x="570.4" y="150" font-size="7" text-anchor="middle" fill="#333" stroke="#333" stroke-width="0.25">−1</text>
<line x1="595.7" y1="140.6" x2="595.7" y2="142.6" stroke="#555" stroke-width="0.8"/>
<text x="595.7" y="150" font-size="7" text-anchor="middle" fill="#333" stroke="#333" stroke-width="0.25">0</text>
<line x1="621" y1="140.6" x2="621" y2="142.6" stroke="#555" stroke-width="0.8"/>
<text x="621" y="150" font-size="7" text-anchor="middle" fill="#333" stroke="#333" stroke-width="0.25">1</text>
<text x="488.9" y="16.2" font-size="7.2" stroke="#1a1a1a" stroke-width="0.25" textLength="107.4" lengthAdjust="spacingAndGlyphs">Spearman's r = 0.23, p = 1.0e-02</text>
<text x="471.6" y="72.5" font-size="7.4" text-anchor="middle" fill="#222" stroke="#222" stroke-width="0.25" transform="rotate(-90 471.6 72.5)" textLength="60.3" lengthAdjust="spacingAndGlyphs">Log10fot (ROCK2)</text>
<text x="558.6" y="156.7" font-size="7.2" text-anchor="middle" fill="#222" stroke="#222" stroke-width="0.25">CNV (<tspan font-style="italic">ROCK2</tspan>)</text>
<text x="5" y="94.3" font-size="17" fill="#000" font-weight="bold">c</text>
<text x="70.2" y="88.8" font-size="7.6" text-anchor="middle" stroke="#1a1a1a" stroke-width="0.25">TCGA</text>
<line x1="55" y1="96.5" x2="84.5" y2="96.5" stroke="#333" stroke-width="0.7"/>
<text x="69.8" y="96" font-size="7" text-anchor="middle" stroke="#1a1a1a" stroke-width="0.25">*</text>
<line x1="38" y1="94.2" x2="38" y2="157.7" stroke="#8c8c8c" stroke-width="0.9"/>
<line x1="36" y1="157.7" x2="38" y2="157.7" stroke="#8c8c8c" stroke-width="0.9"/>
<text x="35.4" y="160.54" font-size="7.9" text-anchor="end" stroke="#1a1a1a" stroke-width="0.25">0</text>
<line x1="36" y1="141.82" x2="38" y2="141.82" stroke="#8c8c8c" stroke-width="0.9"/>
<text x="35.4" y="144.67" font-size="7.9" text-anchor="end" stroke="#1a1a1a" stroke-width="0.25">1</text>
<line x1="36" y1="125.95" x2="38" y2="125.95" stroke="#8c8c8c" stroke-width="0.9"/>
<text x="35.4" y="128.79" font-size="7.9" text-anchor="end" stroke="#1a1a1a" stroke-width="0.25">2</text>
<line x1="36" y1="110.08" x2="38" y2="110.08" stroke="#8c8c8c" stroke-width="0.9"/>
<text x="35.4" y="112.92" font-size="7.9" text-anchor="end" stroke="#1a1a1a" stroke-width="0.25">3</text>
<line x1="36" y1="94.2" x2="38" y2="94.2" stroke="#8c8c8c" stroke-width="0.9"/>
<text x="35.4" y="97.04" font-size="7.9" text-anchor="end" stroke="#1a1a1a" stroke-width="0.25">4</text>
<line x1="38" y1="157.7" x2="101.5" y2="157.7" stroke="#8c8c8c" stroke-width="0.9"/>
<line x1="55" y1="157.7" x2="55" y2="160" stroke="#8c8c8c" stroke-width="0.9"/>
<line x1="84.5" y1="157.7" x2="84.5" y2="160" stroke="#8c8c8c" stroke-width="0.9"/>
<g stroke="#f0b5ad" stroke-width="1.1" fill="none"><rect x="47" y="115" width="16.2" height="19"/><line x1="47" y1="123.6" x2="63.2" y2="123.6"/><line x1="55.1" y1="115" x2="55.1" y2="99.3"/><line x1="55.1" y1="134" x2="55.1" y2="150.5"/><line x1="51.05" y1="99.3" x2="59.15" y2="99.3"/><line x1="51.05" y1="150.5" x2="59.15" y2="150.5"/></g>
<g stroke="#9d6aab" stroke-width="1.1" fill="none"><rect x="76.5" y="112.2" width="16.1" height="10.1"/><line x1="76.5" y1="117.9" x2="92.6" y2="117.9"/><line x1="84.55" y1="112.2" x2="84.55" y2="103.6"/><line x1="84.55" y1="122.3" x2="84.55" y2="140.7"/><line x1="80.53" y1="103.6" x2="88.57" y2="103.6"/><line x1="80.53" y1="140.7" x2="88.57" y2="140.7"/></g>
<text x="23.6" y="126" font-size="7.3" text-anchor="middle" stroke="#1a1a1a" stroke-width="0.25" transform="rotate(-90 23.6 126)" textLength="52" lengthAdjust="spacingAndGlyphs">FPKM (ROCK2 )</text>
<text x="177" y="88.8" font-size="7.6" text-anchor="middle" stroke="#1a1a1a" stroke-width="0.25">TCGA</text>
<line x1="162.4" y1="96.5" x2="191.5" y2="96.5" stroke="#333" stroke-width="0.7"/>
<text x="177" y="95.6" font-size="7" text-anchor="middle" stroke="#1a1a1a" stroke-width="0.25">***</text>
<line x1="147.7" y1="87.5" x2="147.7" y2="157.4" stroke="#8c8c8c" stroke-width="0.9"/>
<line x1="145.7" y1="157.4" x2="147.7" y2="157.4" stroke="#8c8c8c" stroke-width="0.9"/>
<text x="145.1" y="160.03" font-size="7.3" text-anchor="end" stroke="#1a1a1a" stroke-width="0.25">-0.2</text>
<line x1="145.7" y1="143.42" x2="147.7" y2="143.42" stroke="#8c8c8c" stroke-width="0.9"/>
<text x="145.1" y="146.05" font-size="7.3" text-anchor="end" stroke="#1a1a1a" stroke-width="0.25">-0.1</text>
<line x1="145.7" y1="129.44" x2="147.7" y2="129.44" stroke="#8c8c8c" stroke-width="0.9"/>
<text x="145.1" y="132.07" font-size="7.3" text-anchor="end" stroke="#1a1a1a" stroke-width="0.25">0.0</text>
<line x1="145.7" y1="115.46" x2="147.7" y2="115.46" stroke="#8c8c8c" stroke-width="0.9"/>
<text x="145.1" y="118.09" font-size="7.3" text-anchor="end" stroke="#1a1a1a" stroke-width="0.25">0.1</text>
<line x1="145.7" y1="101.48" x2="147.7" y2="101.48" stroke="#8c8c8c" stroke-width="0.9"/>
<text x="145.1" y="104.11" font-size="7.3" text-anchor="end" stroke="#1a1a1a" stroke-width="0.25">0.2</text>
<line x1="145.7" y1="87.5" x2="147.7" y2="87.5" stroke="#8c8c8c" stroke-width="0.9"/>
<text x="145.1" y="90.13" font-size="7.3" text-anchor="end" stroke="#1a1a1a" stroke-width="0.25">0.3</text>
<line x1="147.7" y1="157.4" x2="211" y2="157.4" stroke="#8c8c8c" stroke-width="0.9"/>
<line x1="165.2" y1="157.4" x2="165.2" y2="159.8" stroke="#8c8c8c" stroke-width="0.9"/>
<line x1="192.4" y1="157.4" x2="192.4" y2="159.8" stroke="#8c8c8c" stroke-width="0.9"/>
<g stroke="#f0b5ad" stroke-width="1.1" fill="none"><rect x="157.4" y="121.6" width="15.6" height="13"/><line x1="157.4" y1="129" x2="173" y2="129"/><line x1="165.2" y1="121.6" x2="165.2" y2="100.5"/><line x1="165.2" y1="134.6" x2="165.2" y2="143"/><line x1="161.3" y1="100.5" x2="169.1" y2="100.5"/><line x1="161.3" y1="143" x2="169.1" y2="143"/></g>
<g stroke="#9d6aab" stroke-width="1.1" fill="none"><rect x="183.2" y="115.2" width="16.7" height="11.9"/><line x1="183.2" y1="119.4" x2="199.9" y2="119.4"/><line x1="191.55" y1="115.2" x2="191.55" y2="99.4"/><line x1="191.55" y1="127.1" x2="191.55" y2="130.5"/><line x1="187.38" y1="99.4" x2="195.73" y2="99.4"/><line x1="187.38" y1="130.5" x2="195.73" y2="130.5"/></g>
<text x="117.6" y="122" font-size="7.3" text-anchor="middle" stroke="#1a1a1a" stroke-width="0.25" transform="rotate(-90 117.6 122)">GSVA score</text>
<text x="129.6" y="122" font-size="7.3" text-anchor="middle" stroke="#1a1a1a" stroke-width="0.25" transform="rotate(-90 129.6 122)" textLength="79" lengthAdjust="spacingAndGlyphs">VEGF signaling pathway</text>
<rect x="206.8" y="92.4" width="4.3" height="4.3" fill="#f0b5ad"/>
<text x="213.7" y="97" font-size="7.4" stroke="#1a1a1a" stroke-width="0.25" textLength="72.7" lengthAdjust="spacingAndGlyphs">PM without metastasis</text>
<rect x="206.8" y="102.9" width="4.3" height="4.3" fill="#9d6aab"/>
<text x="213.7" y="107.5" font-size="7.4" stroke="#1a1a1a" stroke-width="0.25">PM with metastasis</text>
<text x="4.4" y="183.4" font-size="17" fill="#000" font-weight="bold">d</text>
<text x="22.3" y="179.2" font-size="7.3" stroke="#1a1a1a" stroke-width="0.25" textLength="98" lengthAdjust="spacingAndGlyphs">ROCK2 in PM with metastasis</text>
<rect x="22.3" y="181.2" width="121.7" height="98.2" fill="#000" filter="url(#ti0)"/>
<rect x="22.3" y="181.2" width="121.7" height="98.2" fill="#000" filter="url(#tin0)"/>
<text x="158.4" y="179.2" font-size="7.3" stroke="#1a1a1a" stroke-width="0.25" textLength="98" lengthAdjust="spacingAndGlyphs">ROCK2 in PM with metastasis</text>
<rect x="158.4" y="181.2" width="123.2" height="98.2" fill="#000" filter="url(#ti1)"/>
<rect x="158.4" y="181.2" width="123.2" height="98.2" fill="#000" filter="url(#tin1)"/>
<text x="294.5" y="179.2" font-size="7.3" stroke="#1a1a1a" stroke-width="0.25" textLength="107.1" lengthAdjust="spacingAndGlyphs">ROCK2 in PM without metastasis</text>
<rect x="294.5" y="181.2" width="122.1" height="98.2" fill="#000" filter="url(#ti2)"/>
<text x="432" y="179.2" font-size="7.3" stroke="#1a1a1a" stroke-width="0.25" textLength="106.5" lengthAdjust="spacingAndGlyphs">ROCK2 in PM without metastasis</text>
<rect x="432" y="181.2" width="122.7" height="98.2" fill="#000" filter="url(#ti3)"/>
<path d="M252,220.3 L257.4,221.1 L262.8,228 L268.1,229.5 L273.5,226.5 L281.6,219.6 L281.6,236.4 L272,241.8 L267.4,248.7 L268.1,255.6 L271.2,261.7 L272.7,269.4 L273.5,279.4 L230.6,279.4 L230.6,272.4 L229,267.8 L224.5,264.8 L218.3,260.2 L210.7,258.6 L203,258.6 L198.4,257.9 L196.6,256.3 L204.5,254 L215.3,251 L226,246.4 L232.1,241.8 L238.2,237.2 L244.4,231.1 L249,224.9 Z" fill="#f2eee9"/>
<circle cx="259.7" cy="216.5" r="1.6" fill="#f0ebe6"/>
<circle cx="193" cy="228" r="1.3" fill="#f0ebe6"/>
<circle cx="183" cy="233.4" r="1.2" fill="#f0ebe6"/>
<circle cx="188.4" cy="259.4" r="1.5" fill="#f0ebe6"/>
<circle cx="255.9" cy="257.1" r="1" fill="#9a5a45"/>
<circle cx="261.2" cy="254" r="0.6" fill="#9a5a45"/>
<circle cx="239.8" cy="248.7" r="0.5" fill="#9a5a45"/>
<path d="M502,181.2 L554.7,181.2 L554.7,212 L548,209 L540,203 L532,197 L524,192 L516,189 L508,184.5 Z" fill="#f3f2f3"/>
<circle cx="326.4" cy="218.7" r="1.3" fill="#94482a" opacity="0.85"/>
<circle cx="328.2" cy="222.9" r="1.2" fill="#94482a" opacity="0.85"/>
<circle cx="296" cy="184" r="1" fill="#94482a" opacity="0.85"/>
<circle cx="295.5" cy="190" r="0.8" fill="#94482a" opacity="0.85"/>
<circle cx="338" cy="211" r="0.7" fill="#94482a" opacity="0.85"/>
<circle cx="355" cy="205" r="0.6" fill="#94482a" opacity="0.85"/>
<circle cx="396" cy="211" r="0.6" fill="#94482a" opacity="0.85"/>
<circle cx="540" cy="213" r="0.7" fill="#94482a" opacity="0.85"/>
<text x="524" y="270.3" font-size="7.3" stroke="#1a1a1a" stroke-width="0.25" textLength="21.6" lengthAdjust="spacingAndGlyphs">100μm</text>
<line x1="526" y1="274.8" x2="544" y2="274.8" stroke="#111" stroke-width="1.3"/>
<text x="4.8" y="301.4" font-size="17" fill="#000" font-weight="bold">e</text>
<rect x="28.1" y="301.7" width="119.5" height="13.9" fill="#cccccc"/>
<rect x="147.6" y="301.7" width="42.8" height="13.9" fill="#4b1519"/>
<rect x="28.1" y="317.3" width="1.74" height="16.3" fill="#eff3f4"/><rect x="29.79" y="317.3" width="1.74" height="16.3" fill="#e8cece"/><rect x="31.48" y="317.3" width="1.74" height="16.3" fill="#f1f4f5"/><rect x="33.17" y="317.3" width="1.74" height="16.3" fill="#ebf0f2"/><rect x="34.86" y="317.3" width="1.74" height="16.3" fill="#c1d7e0"/><rect x="36.55" y="317.3" width="1.74" height="16.3" fill="#f2f4f5"/><rect x="38.24" y="317.3" width="1.74" height="16.3" fill="#d3a2a3"/><rect x="39.93" y="317.3" width="1.74" height="16.3" fill="#ead3d3"/><rect x="41.62" y="317.3" width="1.74" height="16.3" fill="#d9aaab"/><rect x="43.32" y="317.3" width="1.74" height="16.3" fill="#eddede"/><rect x="45.01" y="317.3" width="1.74" height="16.3" fill="#ead5d5"/><rect x="46.7" y="317.3" width="1.74" height="16.3" fill="#efe2e2"/><rect x="48.39" y="317.3" width="1.74" height="16.3" fill="#87a9c0"/><rect x="50.08" y="317.3" width="1.74" height="16.3" fill="#e0b9b9"/><rect x="51.77" y="317.3" width="1.74" height="16.3" fill="#e8cece"/><rect x="53.46" y="317.3" width="1.74" height="16.3" fill="#e8cfcf"/><rect x="55.15" y="317.3" width="1.74" height="16.3" fill="#85a7bf"/><rect x="56.84" y="317.3" width="1.74" height="16.3" fill="#80a2bc"/><rect x="58.53" y="317.3" width="1.74" height="16.3" fill="#c3d9e1"/><rect x="60.22" y="317.3" width="1.74" height="16.3" fill="#e0eaed"/><rect x="61.91" y="317.3" width="1.74" height="16.3" fill="#ecdbdb"/><rect x="63.6" y="317.3" width="1.74" height="16.3" fill="#f4f1f1"/><rect x="65.29" y="317.3" width="1.74" height="16.3" fill="#e8cdcd"/><rect x="66.98" y="317.3" width="1.74" height="16.3" fill="#d4e3e8"/><rect x="68.68" y="317.3" width="1.74" height="16.3" fill="#ecdbdb"/><rect x="70.37" y="317.3" width="1.74" height="16.3" fill="#ead5d5"/><rect x="72.06" y="317.3" width="1.74" height="16.3" fill="#d3e2e8"/><rect x="73.75" y="317.3" width="1.74" height="16.3" fill="#a66166"/><rect x="75.44" y="317.3" width="1.74" height="16.3" fill="#e7cbcb"/><rect x="77.13" y="317.3" width="1.74" height="16.3" fill="#cd999a"/><rect x="78.82" y="317.3" width="1.74" height="16.3" fill="#d6e4e9"/><rect x="80.51" y="317.3" width="1.74" height="16.3" fill="#cedfe5"/><rect x="82.2" y="317.3" width="1.74" height="16.3" fill="#e9eff1"/><rect x="83.89" y="317.3" width="1.74" height="16.3" fill="#f5f4f4"/><rect x="85.58" y="317.3" width="1.74" height="16.3" fill="#e5c7c7"/><rect x="87.27" y="317.3" width="1.74" height="16.3" fill="#eddede"/><rect x="88.96" y="317.3" width="1.74" height="16.3" fill="#e2ebee"/><rect x="90.65" y="317.3" width="1.74" height="16.3" fill="#bfd6df"/><rect x="92.34" y="317.3" width="1.74" height="16.3" fill="#dde8ec"/><rect x="94.03" y="317.3" width="1.74" height="16.3" fill="#cb9698"/><rect x="95.72" y="317.3" width="1.74" height="16.3" fill="#c9dce3"/><rect x="97.42" y="317.3" width="1.74" height="16.3" fill="#eedfdf"/><rect x="99.11" y="317.3" width="1.74" height="16.3" fill="#ead3d3"/><rect x="100.8" y="317.3" width="1.74" height="16.3" fill="#96b7ca"/><rect x="102.49" y="317.3" width="1.74" height="16.3" fill="#f2ebeb"/><rect x="104.18" y="317.3" width="1.74" height="16.3" fill="#c58d8f"/><rect x="105.87" y="317.3" width="1.74" height="16.3" fill="#698cad"/><rect x="107.56" y="317.3" width="1.74" height="16.3" fill="#eaf0f2"/><rect x="109.25" y="317.3" width="1.74" height="16.3" fill="#f5f4f4"/><rect x="110.94" y="317.3" width="1.74" height="16.3" fill="#c8dce3"/><rect x="112.63" y="317.3" width="1.74" height="16.3" fill="#e8cfcf"/><rect x="114.32" y="317.3" width="1.74" height="16.3" fill="#f4f2f2"/><rect x="116.01" y="317.3" width="1.74" height="16.3" fill="#98b9cb"/><rect x="117.7" y="317.3" width="1.74" height="16.3" fill="#e1baba"/><rect x="119.39" y="317.3" width="1.74" height="16.3" fill="#e4c4c4"/><rect x="121.08" y="317.3" width="1.74" height="16.3" fill="#deb3b3"/><rect x="122.78" y="317.3" width="1.74" height="16.3" fill="#bb7e82"/><rect x="124.47" y="317.3" width="1.74" height="16.3" fill="#ebd7d7"/><rect x="126.16" y="317.3" width="1.74" height="16.3" fill="#f0e6e6"/><rect x="127.85" y="317.3" width="1.74" height="16.3" fill="#a7c7d4"/><rect x="129.54" y="317.3" width="1.74" height="16.3" fill="#e6c8c8"/><rect x="131.23" y="317.3" width="1.74" height="16.3" fill="#d6e4e9"/><rect x="132.92" y="317.3" width="1.74" height="16.3" fill="#e1ebee"/><rect x="134.61" y="317.3" width="1.74" height="16.3" fill="#aacad6"/><rect x="136.3" y="317.3" width="1.74" height="16.3" fill="#bed6df"/><rect x="137.99" y="317.3" width="1.74" height="16.3" fill="#dce7ec"/><rect x="139.68" y="317.3" width="1.74" height="16.3" fill="#c68f91"/><rect x="141.37" y="317.3" width="1.74" height="16.3" fill="#678bac"/><rect x="143.06" y="317.3" width="1.74" height="16.3" fill="#99bacb"/><rect x="144.75" y="317.3" width="1.74" height="16.3" fill="#eedfdf"/><rect x="146.44" y="317.3" width="1.74" height="16.3" fill="#bb7e82"/><rect x="148.13" y="317.3" width="1.74" height="16.3" fill="#e1baba"/><rect x="149.83" y="317.3" width="1.74" height="16.3" fill="#89abc1"/><rect x="151.52" y="317.3" width="1.74" height="16.3" fill="#5478a0"/><rect x="153.21" y="317.3" width="1.74" height="16.3" fill="#e5c8c8"/><rect x="154.9" y="317.3" width="1.74" height="16.3" fill="#e0eaed"/><rect x="156.59" y="317.3" width="1.74" height="16.3" fill="#c5dae2"/><rect x="158.28" y="317.3" width="1.74" height="16.3" fill="#ca9496"/><rect x="159.97" y="317.3" width="1.74" height="16.3" fill="#c1878a"/><rect x="161.66" y="317.3" width="1.74" height="16.3" fill="#ead4d4"/><rect x="163.35" y="317.3" width="1.74" height="16.3" fill="#e8cece"/><rect x="165.04" y="317.3" width="1.74" height="16.3" fill="#e4c3c3"/><rect x="166.73" y="317.3" width="1.74" height="16.3" fill="#9c5258"/><rect x="168.42" y="317.3" width="1.74" height="16.3" fill="#e0b7b7"/><rect x="170.11" y="317.3" width="1.74" height="16.3" fill="#e2bdbd"/><rect x="171.8" y="317.3" width="1.74" height="16.3" fill="#e1bcbc"/><rect x="173.49" y="317.3" width="1.74" height="16.3" fill="#a6c6d3"/><rect x="175.18" y="317.3" width="1.74" height="16.3" fill="#b37478"/><rect x="176.88" y="317.3" width="1.74" height="16.3" fill="#cb9799"/><rect x="178.57" y="317.3" width="1.74" height="16.3" fill="#e2bdbd"/><rect x="180.26" y="317.3" width="1.74" height="16.3" fill="#83a5bd"/><rect x="181.95" y="317.3" width="1.74" height="16.3" fill="#e7eef0"/><rect x="183.64" y="317.3" width="1.74" height="16.3" fill="#d4a3a4"/><rect x="185.33" y="317.3" width="1.74" height="16.3" fill="#91b2c6"/><rect x="187.02" y="317.3" width="1.74" height="16.3" fill="#f1e9e9"/><rect x="188.71" y="317.3" width="1.74" height="16.3" fill="#c79092"/>
<rect x="28.1" y="333.9" width="1.74" height="15.9" fill="#a6c6d3"/><rect x="29.79" y="333.9" width="1.74" height="15.9" fill="#ae6c71"/><rect x="31.48" y="333.9" width="1.74" height="15.9" fill="#e7cccc"/><rect x="33.17" y="333.9" width="1.74" height="15.9" fill="#f6f7f7"/><rect x="34.86" y="333.9" width="1.74" height="15.9" fill="#ecdada"/><rect x="36.55" y="333.9" width="1.74" height="15.9" fill="#e5c5c5"/><rect x="38.24" y="333.9" width="1.74" height="15.9" fill="#f0e6e6"/><rect x="39.93" y="333.9" width="1.74" height="15.9" fill="#d19ea0"/><rect x="41.62" y="333.9" width="1.74" height="15.9" fill="#d3e2e8"/><rect x="43.32" y="333.9" width="1.74" height="15.9" fill="#e4ecef"/><rect x="45.01" y="333.9" width="1.74" height="15.9" fill="#d8a9aa"/><rect x="46.7" y="333.9" width="1.74" height="15.9" fill="#f2ecec"/><rect x="48.39" y="333.9" width="1.74" height="15.9" fill="#c4d9e1"/><rect x="50.08" y="333.9" width="1.74" height="15.9" fill="#deb3b3"/><rect x="51.77" y="333.9" width="1.74" height="15.9" fill="#b97c7f"/><rect x="53.46" y="333.9" width="1.74" height="15.9" fill="#e2ebee"/><rect x="55.15" y="333.9" width="1.74" height="15.9" fill="#a0c0cf"/><rect x="56.84" y="333.9" width="1.74" height="15.9" fill="#f6f6f6"/><rect x="58.53" y="333.9" width="1.74" height="15.9" fill="#f6f7f7"/><rect x="60.22" y="333.9" width="1.74" height="15.9" fill="#ecf1f3"/><rect x="61.91" y="333.9" width="1.74" height="15.9" fill="#bd8285"/><rect x="63.6" y="333.9" width="1.74" height="15.9" fill="#bad3dd"/><rect x="65.29" y="333.9" width="1.74" height="15.9" fill="#c89294"/><rect x="66.98" y="333.9" width="1.74" height="15.9" fill="#a9c9d6"/><rect x="68.68" y="333.9" width="1.74" height="15.9" fill="#cadde4"/><rect x="70.37" y="333.9" width="1.74" height="15.9" fill="#e5c7c7"/><rect x="72.06" y="333.9" width="1.74" height="15.9" fill="#d2a0a1"/><rect x="73.75" y="333.9" width="1.74" height="15.9" fill="#e0b8b8"/><rect x="75.44" y="333.9" width="1.74" height="15.9" fill="#ebd8d8"/><rect x="77.13" y="333.9" width="1.74" height="15.9" fill="#f0e5e5"/><rect x="78.82" y="333.9" width="1.74" height="15.9" fill="#f0e4e4"/><rect x="80.51" y="333.9" width="1.74" height="15.9" fill="#e6caca"/><rect x="82.2" y="333.9" width="1.74" height="15.9" fill="#f4f6f6"/><rect x="83.89" y="333.9" width="1.74" height="15.9" fill="#eddddd"/><rect x="85.58" y="333.9" width="1.74" height="15.9" fill="#e6caca"/><rect x="87.27" y="333.9" width="1.74" height="15.9" fill="#f3eeee"/><rect x="88.96" y="333.9" width="1.74" height="15.9" fill="#e2bebe"/><rect x="90.65" y="333.9" width="1.74" height="15.9" fill="#e7cbcb"/><rect x="92.34" y="333.9" width="1.74" height="15.9" fill="#914148"/><rect x="94.03" y="333.9" width="1.74" height="15.9" fill="#ecdada"/><rect x="95.72" y="333.9" width="1.74" height="15.9" fill="#e3ecef"/><rect x="97.42" y="333.9" width="1.74" height="15.9" fill="#e7eef0"/><rect x="99.11" y="333.9" width="1.74" height="15.9" fill="#f3efef"/><rect x="100.8" y="333.9" width="1.74" height="15.9" fill="#dfb4b4"/><rect x="102.49" y="333.9" width="1.74" height="15.9" fill="#e9eff1"/><rect x="104.18" y="333.9" width="1.74" height="15.9" fill="#ead6d6"/><rect x="105.87" y="333.9" width="1.74" height="15.9" fill="#9d545a"/><rect x="107.56" y="333.9" width="1.74" height="15.9" fill="#4a6f9a"/><rect x="109.25" y="333.9" width="1.74" height="15.9" fill="#b3cfda"/><rect x="110.94" y="333.9" width="1.74" height="15.9" fill="#eedfdf"/><rect x="112.63" y="333.9" width="1.74" height="15.9" fill="#ead5d5"/><rect x="114.32" y="333.9" width="1.74" height="15.9" fill="#eedfdf"/><rect x="116.01" y="333.9" width="1.74" height="15.9" fill="#e3ecef"/><rect x="117.7" y="333.9" width="1.74" height="15.9" fill="#e5c5c5"/><rect x="119.39" y="333.9" width="1.74" height="15.9" fill="#eddcdc"/><rect x="121.08" y="333.9" width="1.74" height="15.9" fill="#dce8ec"/><rect x="122.78" y="333.9" width="1.74" height="15.9" fill="#8c3a42"/><rect x="124.47" y="333.9" width="1.74" height="15.9" fill="#ebd8d8"/><rect x="126.16" y="333.9" width="1.74" height="15.9" fill="#dae7eb"/><rect x="127.85" y="333.9" width="1.74" height="15.9" fill="#f5f4f4"/><rect x="129.54" y="333.9" width="1.74" height="15.9" fill="#f1f4f5"/><rect x="131.23" y="333.9" width="1.74" height="15.9" fill="#f4f2f2"/><rect x="132.92" y="333.9" width="1.74" height="15.9" fill="#4a6f9a"/><rect x="134.61" y="333.9" width="1.74" height="15.9" fill="#dfe9ed"/><rect x="136.3" y="333.9" width="1.74" height="15.9" fill="#dbadad"/><rect x="137.99" y="333.9" width="1.74" height="15.9" fill="#b0ced9"/><rect x="139.68" y="333.9" width="1.74" height="15.9" fill="#f4f2f2"/><rect x="141.37" y="333.9" width="1.74" height="15.9" fill="#deb3b3"/><rect x="143.06" y="333.9" width="1.74" height="15.9" fill="#e0b9b9"/><rect x="144.75" y="333.9" width="1.74" height="15.9" fill="#b7797d"/><rect x="146.44" y="333.9" width="1.74" height="15.9" fill="#84a6be"/><rect x="148.13" y="333.9" width="1.74" height="15.9" fill="#f5f4f4"/><rect x="149.83" y="333.9" width="1.74" height="15.9" fill="#f5f3f3"/><rect x="151.52" y="333.9" width="1.74" height="15.9" fill="#e0b7b7"/><rect x="153.21" y="333.9" width="1.74" height="15.9" fill="#c1888b"/><rect x="154.9" y="333.9" width="1.74" height="15.9" fill="#4a6f9a"/><rect x="156.59" y="333.9" width="1.74" height="15.9" fill="#c2888b"/><rect x="158.28" y="333.9" width="1.74" height="15.9" fill="#afcdd8"/><rect x="159.97" y="333.9" width="1.74" height="15.9" fill="#deb3b3"/><rect x="161.66" y="333.9" width="1.74" height="15.9" fill="#accbd7"/><rect x="163.35" y="333.9" width="1.74" height="15.9" fill="#e9d3d3"/><rect x="165.04" y="333.9" width="1.74" height="15.9" fill="#ba7d81"/><rect x="166.73" y="333.9" width="1.74" height="15.9" fill="#f0e7e7"/><rect x="168.42" y="333.9" width="1.74" height="15.9" fill="#e9d2d2"/><rect x="170.11" y="333.9" width="1.74" height="15.9" fill="#d7a8a9"/><rect x="171.8" y="333.9" width="1.74" height="15.9" fill="#ead5d5"/><rect x="173.49" y="333.9" width="1.74" height="15.9" fill="#efe3e3"/><rect x="175.18" y="333.9" width="1.74" height="15.9" fill="#a1585e"/><rect x="176.88" y="333.9" width="1.74" height="15.9" fill="#c58d8f"/><rect x="178.57" y="333.9" width="1.74" height="15.9" fill="#f4f0f0"/><rect x="180.26" y="333.9" width="1.74" height="15.9" fill="#8c3a42"/><rect x="181.95" y="333.9" width="1.74" height="15.9" fill="#c3d9e1"/><rect x="183.64" y="333.9" width="1.74" height="15.9" fill="#ce9b9d"/><rect x="185.33" y="333.9" width="1.74" height="15.9" fill="#f3eeee"/><rect x="187.02" y="333.9" width="1.74" height="15.9" fill="#ead5d5"/><rect x="188.71" y="333.9" width="1.74" height="15.9" fill="#deb2b2"/>
<rect x="28.1" y="350.1" width="1.74" height="16.1" fill="#eee0e0"/><rect x="29.79" y="350.1" width="1.74" height="16.1" fill="#e5c6c6"/><rect x="31.48" y="350.1" width="1.74" height="16.1" fill="#93b4c8"/><rect x="33.17" y="350.1" width="1.74" height="16.1" fill="#94b6c8"/><rect x="34.86" y="350.1" width="1.74" height="16.1" fill="#e6c8c8"/><rect x="36.55" y="350.1" width="1.74" height="16.1" fill="#bed6df"/><rect x="38.24" y="350.1" width="1.74" height="16.1" fill="#bad3dd"/><rect x="39.93" y="350.1" width="1.74" height="16.1" fill="#98b9cb"/><rect x="41.62" y="350.1" width="1.74" height="16.1" fill="#c89193"/><rect x="43.32" y="350.1" width="1.74" height="16.1" fill="#e3bfbf"/><rect x="45.01" y="350.1" width="1.74" height="16.1" fill="#b87b7f"/><rect x="46.7" y="350.1" width="1.74" height="16.1" fill="#c0d7e0"/><rect x="48.39" y="350.1" width="1.74" height="16.1" fill="#f3eeee"/><rect x="50.08" y="350.1" width="1.74" height="16.1" fill="#b2cfda"/><rect x="51.77" y="350.1" width="1.74" height="16.1" fill="#e2bebe"/><rect x="53.46" y="350.1" width="1.74" height="16.1" fill="#b06e73"/><rect x="55.15" y="350.1" width="1.74" height="16.1" fill="#c3d9e1"/><rect x="56.84" y="350.1" width="1.74" height="16.1" fill="#b27176"/><rect x="58.53" y="350.1" width="1.74" height="16.1" fill="#dcafaf"/><rect x="60.22" y="350.1" width="1.74" height="16.1" fill="#f4f6f6"/><rect x="61.91" y="350.1" width="1.74" height="16.1" fill="#6c90b0"/><rect x="63.6" y="350.1" width="1.74" height="16.1" fill="#bd8285"/><rect x="65.29" y="350.1" width="1.74" height="16.1" fill="#f5f4f4"/><rect x="66.98" y="350.1" width="1.74" height="16.1" fill="#d7e5e9"/><rect x="68.68" y="350.1" width="1.74" height="16.1" fill="#ead5d5"/><rect x="70.37" y="350.1" width="1.74" height="16.1" fill="#ead4d4"/><rect x="72.06" y="350.1" width="1.74" height="16.1" fill="#b7787c"/><rect x="73.75" y="350.1" width="1.74" height="16.1" fill="#bad4dd"/><rect x="75.44" y="350.1" width="1.74" height="16.1" fill="#d19fa1"/><rect x="77.13" y="350.1" width="1.74" height="16.1" fill="#b7797d"/><rect x="78.82" y="350.1" width="1.74" height="16.1" fill="#ba7d81"/><rect x="80.51" y="350.1" width="1.74" height="16.1" fill="#f4f6f6"/><rect x="82.2" y="350.1" width="1.74" height="16.1" fill="#cddfe5"/><rect x="83.89" y="350.1" width="1.74" height="16.1" fill="#daacac"/><rect x="85.58" y="350.1" width="1.74" height="16.1" fill="#f0e7e7"/><rect x="87.27" y="350.1" width="1.74" height="16.1" fill="#f0e6e6"/><rect x="88.96" y="350.1" width="1.74" height="16.1" fill="#bc8084"/><rect x="90.65" y="350.1" width="1.74" height="16.1" fill="#eef2f4"/><rect x="92.34" y="350.1" width="1.74" height="16.1" fill="#50759e"/><rect x="94.03" y="350.1" width="1.74" height="16.1" fill="#e6edf0"/><rect x="95.72" y="350.1" width="1.74" height="16.1" fill="#7799b6"/><rect x="97.42" y="350.1" width="1.74" height="16.1" fill="#e1bbbb"/><rect x="99.11" y="350.1" width="1.74" height="16.1" fill="#ecdada"/><rect x="100.8" y="350.1" width="1.74" height="16.1" fill="#d6e4e9"/><rect x="102.49" y="350.1" width="1.74" height="16.1" fill="#f3eeee"/><rect x="104.18" y="350.1" width="1.74" height="16.1" fill="#e1baba"/><rect x="105.87" y="350.1" width="1.74" height="16.1" fill="#f1e9e9"/><rect x="107.56" y="350.1" width="1.74" height="16.1" fill="#c38b8d"/><rect x="109.25" y="350.1" width="1.74" height="16.1" fill="#f4f2f2"/><rect x="110.94" y="350.1" width="1.74" height="16.1" fill="#d8aaaa"/><rect x="112.63" y="350.1" width="1.74" height="16.1" fill="#b7797d"/><rect x="114.32" y="350.1" width="1.74" height="16.1" fill="#ae6c71"/><rect x="116.01" y="350.1" width="1.74" height="16.1" fill="#d2e2e7"/><rect x="117.7" y="350.1" width="1.74" height="16.1" fill="#e0b7b7"/><rect x="119.39" y="350.1" width="1.74" height="16.1" fill="#7597b5"/><rect x="121.08" y="350.1" width="1.74" height="16.1" fill="#b6d1db"/><rect x="122.78" y="350.1" width="1.74" height="16.1" fill="#6d90b0"/><rect x="124.47" y="350.1" width="1.74" height="16.1" fill="#d6a7a7"/><rect x="126.16" y="350.1" width="1.74" height="16.1" fill="#accbd7"/><rect x="127.85" y="350.1" width="1.74" height="16.1" fill="#f3efef"/><rect x="129.54" y="350.1" width="1.74" height="16.1" fill="#f3f5f6"/><rect x="131.23" y="350.1" width="1.74" height="16.1" fill="#f3f0f0"/><rect x="132.92" y="350.1" width="1.74" height="16.1" fill="#d8e5ea"/><rect x="134.61" y="350.1" width="1.74" height="16.1" fill="#eedfdf"/><rect x="136.3" y="350.1" width="1.74" height="16.1" fill="#a1595f"/><rect x="137.99" y="350.1" width="1.74" height="16.1" fill="#f2ebeb"/><rect x="139.68" y="350.1" width="1.74" height="16.1" fill="#e7cdcd"/><rect x="141.37" y="350.1" width="1.74" height="16.1" fill="#dbaeae"/><rect x="143.06" y="350.1" width="1.74" height="16.1" fill="#f3f5f6"/><rect x="144.75" y="350.1" width="1.74" height="16.1" fill="#aacad6"/><rect x="146.44" y="350.1" width="1.74" height="16.1" fill="#dae7eb"/><rect x="148.13" y="350.1" width="1.74" height="16.1" fill="#c38a8d"/><rect x="149.83" y="350.1" width="1.74" height="16.1" fill="#9fc0cf"/><rect x="151.52" y="350.1" width="1.74" height="16.1" fill="#e9eff1"/><rect x="153.21" y="350.1" width="1.74" height="16.1" fill="#c89193"/><rect x="154.9" y="350.1" width="1.74" height="16.1" fill="#d7a8a9"/><rect x="156.59" y="350.1" width="1.74" height="16.1" fill="#eddddd"/><rect x="158.28" y="350.1" width="1.74" height="16.1" fill="#d7a7a8"/><rect x="159.97" y="350.1" width="1.74" height="16.1" fill="#ead3d3"/><rect x="161.66" y="350.1" width="1.74" height="16.1" fill="#c1d8e0"/><rect x="163.35" y="350.1" width="1.74" height="16.1" fill="#a6c6d4"/><rect x="165.04" y="350.1" width="1.74" height="16.1" fill="#e6eef0"/><rect x="166.73" y="350.1" width="1.74" height="16.1" fill="#ce9a9c"/><rect x="168.42" y="350.1" width="1.74" height="16.1" fill="#ebf1f2"/><rect x="170.11" y="350.1" width="1.74" height="16.1" fill="#d4e3e8"/><rect x="171.8" y="350.1" width="1.74" height="16.1" fill="#dde8ec"/><rect x="173.49" y="350.1" width="1.74" height="16.1" fill="#a9c9d5"/><rect x="175.18" y="350.1" width="1.74" height="16.1" fill="#f0e5e5"/><rect x="176.88" y="350.1" width="1.74" height="16.1" fill="#c1d8e0"/><rect x="178.57" y="350.1" width="1.74" height="16.1" fill="#e5c7c7"/><rect x="180.26" y="350.1" width="1.74" height="16.1" fill="#6185a9"/><rect x="181.95" y="350.1" width="1.74" height="16.1" fill="#e6c9c9"/><rect x="183.64" y="350.1" width="1.74" height="16.1" fill="#e6eef0"/><rect x="185.33" y="350.1" width="1.74" height="16.1" fill="#85a7bf"/><rect x="187.02" y="350.1" width="1.74" height="16.1" fill="#dcb0b0"/><rect x="188.71" y="350.1" width="1.74" height="16.1" fill="#f3efef"/>
<text x="192.3" y="311.3" font-size="7.6" stroke="#1a1a1a" stroke-width="0.25" font-style="italic" textLength="73" lengthAdjust="spacingAndGlyphs">ROCK2 amplification</text>
<text x="192.3" y="328.9" font-size="7.6" stroke="#1a1a1a" stroke-width="0.25" textLength="66.4" lengthAdjust="spacingAndGlyphs">Adherens junction*</text>
<text x="192.3" y="344.6" font-size="7.6" stroke="#1a1a1a" stroke-width="0.25" textLength="81.4" lengthAdjust="spacingAndGlyphs">Epithelial cell signaling*</text>
<text x="192.3" y="360.4" font-size="7.6" stroke="#1a1a1a" stroke-width="0.25" textLength="118.5" lengthAdjust="spacingAndGlyphs">Regulation of actin cytoskeleton**</text>
<text x="14.4" y="341.8" font-size="7.3" text-anchor="middle" stroke="#1a1a1a" stroke-width="0.25" transform="rotate(-90 14.4 341.8)">ssGSEA</text>
<text x="23.5" y="341.8" font-size="7.3" text-anchor="middle" stroke="#1a1a1a" stroke-width="0.25" transform="rotate(-90 23.5 341.8)">(Pro)</text>
<text x="169.8" y="374.9" font-size="7.3" text-anchor="middle" stroke="#1a1a1a" stroke-width="0.25" textLength="22.2" lengthAdjust="spacingAndGlyphs">Zscore</text>
<rect x="152.3" y="378" width="35.5" height="6.6" fill="url(#gz)"/>
<text x="150.5" y="387.2" font-size="7" stroke="#1a1a1a" stroke-width="0.25" transform="rotate(90 150.5 387.2)">−3</text>
<text x="158.2" y="387.2" font-size="7" stroke="#1a1a1a" stroke-width="0.25" transform="rotate(90 158.2 387.2)">−1.5</text>
<text x="166.2" y="387.2" font-size="7" stroke="#1a1a1a" stroke-width="0.25" transform="rotate(90 166.2 387.2)">0</text>
<text x="175" y="387.2" font-size="7" stroke="#1a1a1a" stroke-width="0.25" transform="rotate(90 175 387.2)">1.5</text>
<text x="183.7" y="387.2" font-size="7" stroke="#1a1a1a" stroke-width="0.25" transform="rotate(90 183.7 387.2)">3</text>
<text x="322.5" y="300.6" font-size="17" fill="#000" font-weight="bold">f</text>
<rect x="349.6" y="292.5" width="130.7" height="101.4" fill="#fff" stroke="#d6d6d6" stroke-width="0.7"/>
<line x1="375" y1="292.5" x2="375" y2="393.9" stroke="#f3f3f3" stroke-width="0.5"/>
<line x1="412.4" y1="292.5" x2="412.4" y2="393.9" stroke="#f3f3f3" stroke-width="0.5"/>
<line x1="449.8" y1="292.5" x2="449.8" y2="393.9" stroke="#f3f3f3" stroke-width="0.5"/>
<line x1="349.6" y1="378.55" x2="480.3" y2="378.55" stroke="#f3f3f3" stroke-width="0.5"/>
<line x1="349.6" y1="356.45" x2="480.3" y2="356.45" stroke="#f3f3f3" stroke-width="0.5"/>
<line x1="349.6" y1="334.35" x2="480.3" y2="334.35" stroke="#f3f3f3" stroke-width="0.5"/>
<line x1="349.6" y1="312.25" x2="480.3" y2="312.25" stroke="#f3f3f3" stroke-width="0.5"/>
<line x1="356.3" y1="292.5" x2="356.3" y2="393.9" stroke="#e8e8e8" stroke-width="0.6"/>
<line x1="393.7" y1="292.5" x2="393.7" y2="393.9" stroke="#e8e8e8" stroke-width="0.6"/>
<line x1="431.1" y1="292.5" x2="431.1" y2="393.9" stroke="#e8e8e8" stroke-width="0.6"/>
<line x1="468.5" y1="292.5" x2="468.5" y2="393.9" stroke="#e8e8e8" stroke-width="0.6"/>
<line x1="349.6" y1="389.6" x2="480.3" y2="389.6" stroke="#e8e8e8" stroke-width="0.6"/>
<line x1="349.6" y1="367.5" x2="480.3" y2="367.5" stroke="#e8e8e8" stroke-width="0.6"/>
<line x1="349.6" y1="345.4" x2="480.3" y2="345.4" stroke="#e8e8e8" stroke-width="0.6"/>
<line x1="349.6" y1="323.3" x2="480.3" y2="323.3" stroke="#e8e8e8" stroke-width="0.6"/>
<line x1="349.6" y1="301.2" x2="480.3" y2="301.2" stroke="#e8e8e8" stroke-width="0.6"/>
<line x1="349.6" y1="332.2" x2="480.3" y2="332.2" stroke="#e69a8a" stroke-width="0.8" stroke-dasharray="3,2"/>
<line x1="380.6" y1="292.5" x2="380.6" y2="393.9" stroke="#e69a8a" stroke-width="0.8" stroke-dasharray="3,2"/>
<circle cx="407.1" cy="344.4" r="3.6" fill="#b5b5b5"/>
<circle cx="411.2" cy="345.2" r="3.6" fill="#b5b5b5"/>
<circle cx="419" cy="349.3" r="3.6" fill="#b5b5b5"/>
<circle cx="389" cy="357.1" r="3.6" fill="#b5b5b5"/>
<circle cx="383.5" cy="372.4" r="3.6" fill="#b5b5b5"/>
<circle cx="381.5" cy="375.7" r="3.6" fill="#b5b5b5"/>
<circle cx="368.2" cy="374.3" r="3.6" fill="#b5b5b5"/>
<circle cx="369.6" cy="377.6" r="3.6" fill="#b5b5b5"/>
<circle cx="372.4" cy="386.2" r="3.6" fill="#b5b5b5"/>
<circle cx="376.5" cy="386.2" r="3.6" fill="#b5b5b5"/>
<circle cx="379.3" cy="382.1" r="3.6" fill="#b5b5b5"/>
<circle cx="381.5" cy="383.2" r="3.6" fill="#b5b5b5"/>
<circle cx="356" cy="389.6" r="3.6" fill="#b5b5b5"/>
<circle cx="419.3" cy="296.6" r="3.5" fill="#c0282b"/>
<circle cx="412" cy="314.7" r="3.5" fill="#c0282b"/>
<circle cx="474.5" cy="316.9" r="3.5" fill="#c0282b"/>
<circle cx="402.9" cy="323.8" r="3.5" fill="#c0282b"/>
<circle cx="401" cy="328" r="3.5" fill="#c0282b"/>
<line x1="347.6" y1="389.6" x2="349.6" y2="389.6" stroke="#333" stroke-width="0.6"/>
<text x="346.6" y="392.2" font-size="7.2" text-anchor="end" fill="#4d4d4d" stroke="#4d4d4d" stroke-width="0.25">0.0</text>
<line x1="347.6" y1="367.5" x2="349.6" y2="367.5" stroke="#333" stroke-width="0.6"/>
<text x="346.6" y="370.1" font-size="7.2" text-anchor="end" fill="#4d4d4d" stroke="#4d4d4d" stroke-width="0.25">0.5</text>
<line x1="347.6" y1="345.4" x2="349.6" y2="345.4" stroke="#333" stroke-width="0.6"/>
<text x="346.6" y="348" font-size="7.2" text-anchor="end" fill="#4d4d4d" stroke="#4d4d4d" stroke-width="0.25">1.0</text>
<line x1="347.6" y1="323.3" x2="349.6" y2="323.3" stroke="#333" stroke-width="0.6"/>
<text x="346.6" y="325.9" font-size="7.2" text-anchor="end" fill="#4d4d4d" stroke="#4d4d4d" stroke-width="0.25">1.5</text>
<line x1="347.6" y1="301.2" x2="349.6" y2="301.2" stroke="#333" stroke-width="0.6"/>
<text x="346.6" y="303.8" font-size="7.2" text-anchor="end" fill="#4d4d4d" stroke="#4d4d4d" stroke-width="0.25">2.0</text>
<line x1="356.3" y1="393.9" x2="356.3" y2="395.9" stroke="#333" stroke-width="0.6"/>
<text x="356.3" y="404.2" font-size="7.2" text-anchor="middle" fill="#4d4d4d" stroke="#4d4d4d" stroke-width="0.25">0</text>
<line x1="393.7" y1="393.9" x2="393.7" y2="395.9" stroke="#333" stroke-width="0.6"/>
<text x="393.7" y="404.2" font-size="7.2" text-anchor="middle" fill="#4d4d4d" stroke="#4d4d4d" stroke-width="0.25">2</text>
<line x1="431.1" y1="393.9" x2="431.1" y2="395.9" stroke="#333" stroke-width="0.6"/>
<text x="431.1" y="404.2" font-size="7.2" text-anchor="middle" fill="#4d4d4d" stroke="#4d4d4d" stroke-width="0.25">4</text>
<line x1="468.5" y1="393.9" x2="468.5" y2="395.9" stroke="#333" stroke-width="0.6"/>
<text x="468.5" y="404.2" font-size="7.2" text-anchor="middle" fill="#4d4d4d" stroke="#4d4d4d" stroke-width="0.25">6</text>
<text x="413.8" y="412.2" font-size="7.4" text-anchor="middle" stroke="#1a1a1a" stroke-width="0.25">Hazard ratio</text>
<text x="331.6" y="343.8" font-size="7.4" text-anchor="middle" stroke="#1a1a1a" stroke-width="0.25" transform="rotate(-90 331.6 343.8)">-Log<tspan font-size="4.5" dy="1.5">10</tspan><tspan dy="-1.5">(P-value)</tspan></text>
<text x="426.8" y="299.7" font-size="7.3" stroke="#1a1a1a" stroke-width="0.25" textLength="33.8" lengthAdjust="spacingAndGlyphs">BAD/S118</text>
<text x="364.9" y="310.8" font-size="7.3" stroke="#1a1a1a" stroke-width="0.25" textLength="43" lengthAdjust="spacingAndGlyphs">EPHA2/S897</text>
<text x="430" y="313" font-size="7.3" stroke="#1a1a1a" stroke-width="0.25" textLength="39.7" lengthAdjust="spacingAndGlyphs">RIPK2/S531</text>
<text x="408.7" y="326.9" font-size="7.3" stroke="#1a1a1a" stroke-width="0.25" textLength="45" lengthAdjust="spacingAndGlyphs">HMGB1/S100</text>
<text x="405.1" y="338" font-size="7.3" stroke="#1a1a1a" stroke-width="0.25" textLength="43.9" lengthAdjust="spacingAndGlyphs">PRKAB1/S10</text>
<text x="488.6" y="302.2" font-size="17" fill="#000" font-weight="bold">g</text>
<rect x="511.4" y="292.9" width="135.6" height="101.4" fill="#fff" stroke="#d6d6d6" stroke-width="0.7"/>
<line x1="517.9" y1="292.9" x2="517.9" y2="394.3" stroke="#f3f3f3" stroke-width="0.5"/>
<line x1="551.7" y1="292.9" x2="551.7" y2="394.3" stroke="#f3f3f3" stroke-width="0.5"/>
<line x1="585.5" y1="292.9" x2="585.5" y2="394.3" stroke="#f3f3f3" stroke-width="0.5"/>
<line x1="619.3" y1="292.9" x2="619.3" y2="394.3" stroke="#f3f3f3" stroke-width="0.5"/>
<line x1="511.4" y1="373.35" x2="647" y2="373.35" stroke="#f3f3f3" stroke-width="0.5"/>
<line x1="511.4" y1="338.65" x2="647" y2="338.65" stroke="#f3f3f3" stroke-width="0.5"/>
<line x1="511.4" y1="303.95" x2="647" y2="303.95" stroke="#f3f3f3" stroke-width="0.5"/>
<line x1="534.8" y1="292.9" x2="534.8" y2="394.3" stroke="#e8e8e8" stroke-width="0.6"/>
<line x1="568.6" y1="292.9" x2="568.6" y2="394.3" stroke="#e8e8e8" stroke-width="0.6"/>
<line x1="602.4" y1="292.9" x2="602.4" y2="394.3" stroke="#e8e8e8" stroke-width="0.6"/>
<line x1="636.2" y1="292.9" x2="636.2" y2="394.3" stroke="#e8e8e8" stroke-width="0.6"/>
<line x1="511.4" y1="390.7" x2="647" y2="390.7" stroke="#e8e8e8" stroke-width="0.6"/>
<line x1="511.4" y1="356" x2="647" y2="356" stroke="#e8e8e8" stroke-width="0.6"/>
<line x1="511.4" y1="321.3" x2="647" y2="321.3" stroke="#e8e8e8" stroke-width="0.6"/>
<line x1="511.4" y1="345.2" x2="647" y2="345.2" stroke="#f2c0b4" stroke-width="0.9" stroke-dasharray="3,2"/>
<line x1="544.4" y1="292.9" x2="544.4" y2="394.3" stroke="#f2c0b4" stroke-width="0.9" stroke-dasharray="3,2"/>
<path d="M517.4,353.38 L521.65,360.74 L513.15,360.74 Z" fill="#b5b5b5"/>
<circle cx="568.9" cy="353.3" r="3.4" fill="#b5b5b5"/>
<circle cx="566.8" cy="354.2" r="3.4" fill="#b5b5b5"/>
<circle cx="559.3" cy="364.7" r="3.4" fill="#b5b5b5"/>
<circle cx="556.3" cy="366.8" r="3.4" fill="#b5b5b5"/>
<circle cx="554.2" cy="369.8" r="3.4" fill="#b5b5b5"/>
<circle cx="553.3" cy="372.8" r="3.4" fill="#b5b5b5"/>
<circle cx="558.4" cy="369.8" r="3.4" fill="#b5b5b5"/>
<circle cx="560.2" cy="375.2" r="3.4" fill="#b5b5b5"/>
<circle cx="551.2" cy="375.8" r="3.4" fill="#b5b5b5"/>
<circle cx="547.3" cy="377.3" r="3.4" fill="#b5b5b5"/>
<circle cx="576.4" cy="348" r="3.4" fill="#b5b5b5"/>
<path d="M568.9,356.38 L573.15,363.74 L564.65,363.74 Z" fill="#b5b5b5"/>
<path d="M547.3,375.88 L551.55,383.24 L543.05,383.24 Z" fill="#b5b5b5"/>
<path d="M544.4,377.38 L548.65,384.74 L540.15,384.74 Z" fill="#b5b5b5"/>
<path d="M530.9,381.88 L535.15,389.24 L526.65,389.24 Z" fill="#b5b5b5"/>
<path d="M532.4,383.38 L536.65,390.74 L528.15,390.74 Z" fill="#b5b5b5"/>
<circle cx="638.6" cy="297.1" r="3.4" fill="#c1272d"/>
<circle cx="596.7" cy="324" r="3.4" fill="#c1272d"/>
<circle cx="577.9" cy="343.5" r="3.4" fill="#c1272d"/>
<circle cx="581.8" cy="341.4" r="3.4" fill="#c1272d"/>
<path d="M641,302.32 L645.5,310.12 L636.5,310.12 Z" fill="#c1272d"/>
<path d="M610.2,322.62 L614.7,330.42 L605.7,330.42 Z" fill="#c1272d"/>
<path d="M590.7,338.22 L595.2,346.02 L586.2,346.02 Z" fill="#c1272d"/>
<rect x="534.5" y="314.4" width="56.8" height="12" fill="none" stroke="#c1272d" stroke-width="0.8" stroke-dasharray="3,2"/>
<rect x="583.3" y="329.4" width="62.8" height="12" fill="none" stroke="#c1272d" stroke-width="0.8" stroke-dasharray="3,2"/>
<line x1="509.4" y1="390.7" x2="511.4" y2="390.7" stroke="#333" stroke-width="0.6"/>
<text x="508.4" y="393.3" font-size="7.2" text-anchor="end" fill="#4d4d4d" stroke="#4d4d4d" stroke-width="0.25">0</text>
<line x1="509.4" y1="356" x2="511.4" y2="356" stroke="#333" stroke-width="0.6"/>
<text x="508.4" y="358.6" font-size="7.2" text-anchor="end" fill="#4d4d4d" stroke="#4d4d4d" stroke-width="0.25">1</text>
<line x1="509.4" y1="321.3" x2="511.4" y2="321.3" stroke="#333" stroke-width="0.6"/>
<text x="508.4" y="323.9" font-size="7.2" text-anchor="end" fill="#4d4d4d" stroke="#4d4d4d" stroke-width="0.25">2</text>
<line x1="534.8" y1="394.3" x2="534.8" y2="396.3" stroke="#333" stroke-width="0.6"/>
<text x="534.8" y="403.8" font-size="7.2" text-anchor="middle" fill="#4d4d4d" stroke="#4d4d4d" stroke-width="0.25">1</text>
<line x1="568.6" y1="394.3" x2="568.6" y2="396.3" stroke="#333" stroke-width="0.6"/>
<text x="568.6" y="403.8" font-size="7.2" text-anchor="middle" fill="#4d4d4d" stroke="#4d4d4d" stroke-width="0.25">2</text>
<line x1="602.4" y1="394.3" x2="602.4" y2="396.3" stroke="#333" stroke-width="0.6"/>
<text x="602.4" y="403.8" font-size="7.2" text-anchor="middle" fill="#4d4d4d" stroke="#4d4d4d" stroke-width="0.25">3</text>
<line x1="636.2" y1="394.3" x2="636.2" y2="396.3" stroke="#333" stroke-width="0.6"/>
<text x="636.2" y="403.8" font-size="7.2" text-anchor="middle" fill="#4d4d4d" stroke="#4d4d4d" stroke-width="0.25">4</text>
<text x="586.3" y="412.8" font-size="7.4" text-anchor="middle" stroke="#1a1a1a" stroke-width="0.25">Hazard ratio</text>
<text x="497.4" y="344.4" font-size="7.4" text-anchor="middle" stroke="#1a1a1a" stroke-width="0.25" transform="rotate(-90 497.4 344.4)">-Log<tspan font-size="4.5" dy="1.5">10</tspan><tspan dy="-1.5">(P-value)</tspan></text>
<text x="589.2" y="299.6" font-size="7.3" stroke="#1a1a1a" stroke-width="0.25" textLength="39.8" lengthAdjust="spacingAndGlyphs">GSK3B_Pro</text>
<text x="593.7" y="310.1" font-size="7.3" stroke="#1a1a1a" stroke-width="0.25" textLength="38.3" lengthAdjust="spacingAndGlyphs">NCK2_RNA</text>
<text x="538.5" y="323" font-size="7.3" stroke="#1a1a1a" stroke-width="0.25" textLength="48.5" lengthAdjust="spacingAndGlyphs">PDGFRA_Pro</text>
<text x="589.2" y="338" font-size="7.3" stroke="#1a1a1a" stroke-width="0.25" textLength="49.4" lengthAdjust="spacingAndGlyphs">PDGFRA_RNA</text>
<text x="541.4" y="338.6" font-size="7.3" stroke="#1a1a1a" stroke-width="0.25" textLength="34.4" lengthAdjust="spacingAndGlyphs">RNF2_Pro</text>
<text x="536.9" y="350.6" font-size="7.3" stroke="#1a1a1a" stroke-width="0.25" textLength="34.4" lengthAdjust="spacingAndGlyphs">NCK2_Pro</text>
<text x="589.2" y="355.9" font-size="7.3" stroke="#1a1a1a" stroke-width="0.25" textLength="46.4" lengthAdjust="spacingAndGlyphs">EWSR1_RNA</text>
<text x="4.4" y="429.7" font-size="17" fill="#000" font-weight="bold">h</text>
<text x="61" y="427.8" font-size="7.3" stroke="#1a1a1a" stroke-width="0.25" textLength="45.4" lengthAdjust="spacingAndGlyphs">A375 Migration</text>
<line x1="6.6" y1="431.6" x2="165.5" y2="431.6" stroke="#b0b0b0" stroke-width="1"/>
<text x="6.6" y="443.7" font-size="7.3" stroke="#1a1a1a" stroke-width="0.25" textLength="40.7" lengthAdjust="spacingAndGlyphs">OE-Ctrl-A375</text>
<text x="92" y="443.7" font-size="7.3" stroke="#1a1a1a" stroke-width="0.25" textLength="52.5" lengthAdjust="spacingAndGlyphs">ROCK2-OE-A375</text>
<rect x="5.8" y="444.9" width="76.4" height="57.6" fill="#000" filter="url(#tm0)"/>
<rect x="5.8" y="444.9" width="76.4" height="57.6" fill="#000" filter="url(#tms0)"/>
<rect x="90.6" y="444.9" width="76.2" height="57.6" fill="#000" filter="url(#tm1)"/>
<rect x="90.6" y="444.9" width="76.2" height="57.6" fill="#000" filter="url(#tms1)"/>
<text x="6.6" y="509.3" font-size="7.3" stroke="#1a1a1a" stroke-width="0.25" textLength="40.7" lengthAdjust="spacingAndGlyphs">KD-Ctrl-A375</text>
<text x="92" y="509.3" font-size="7.3" stroke="#1a1a1a" stroke-width="0.25" textLength="52.5" lengthAdjust="spacingAndGlyphs">ROCK2-KD-A375</text>
<rect x="5.8" y="510.5" width="76.4" height="56.5" fill="#000" filter="url(#tm2)"/>
<rect x="5.8" y="510.5" width="76.4" height="56.5" fill="#000" filter="url(#tms2)"/>
<rect x="90.6" y="510.5" width="76.2" height="56.5" fill="url(#gm3)"/>
<rect x="90.6" y="510.5" width="76.2" height="56.5" fill="#000" filter="url(#nm3a)"/>
<rect x="90.6" y="510.5" width="76.2" height="56.5" fill="#000" filter="url(#nm3b)"/>
<ellipse cx="100.5" cy="468" rx="1.6" ry="4.5" transform="rotate(-15 100.5 468)" fill="#2a2a48" opacity="0.85"/>
<ellipse cx="103" cy="474" rx="1.4" ry="3" transform="rotate(-10 103 474)" fill="#2a2a48" opacity="0.85"/>
<ellipse cx="154" cy="470" rx="1.0" ry="3" transform="rotate(30 154 470)" fill="#2a2a48" opacity="0.85"/>
<ellipse cx="160" cy="489" rx="1.5" ry="1.5" transform="rotate(0 160 489)" fill="#2a2a48" opacity="0.85"/>
<line x1="147.9" y1="571.5" x2="164.2" y2="571.5" stroke="#222" stroke-width="0.6"/>
<text x="146.3" y="579.3" font-size="7.3" stroke="#1a1a1a" stroke-width="0.25" textLength="20.5" lengthAdjust="spacingAndGlyphs">200 μm</text>
<text x="181.6" y="429.8" font-size="17" fill="#000" font-weight="bold">i</text>
<line x1="218.4" y1="434.8" x2="218.4" y2="534" stroke="#555" stroke-width="0.7"/>
<line x1="216.4" y1="534" x2="218.4" y2="534" stroke="#555" stroke-width="0.7"/>
<text x="215.4" y="536.5" font-size="7" text-anchor="end" stroke="#1a1a1a" stroke-width="0.25">0</text>
<line x1="216.4" y1="509.2" x2="218.4" y2="509.2" stroke="#555" stroke-width="0.7"/>
<text x="215.4" y="511.7" font-size="7" text-anchor="end" stroke="#1a1a1a" stroke-width="0.25">500</text>
<line x1="216.4" y1="484.4" x2="218.4" y2="484.4" stroke="#555" stroke-width="0.7"/>
<text x="215.4" y="486.9" font-size="7" text-anchor="end" stroke="#1a1a1a" stroke-width="0.25">1000</text>
<line x1="216.4" y1="459.6" x2="218.4" y2="459.6" stroke="#555" stroke-width="0.7"/>
<text x="215.4" y="462.1" font-size="7" text-anchor="end" stroke="#1a1a1a" stroke-width="0.25">1500</text>
<line x1="216.4" y1="434.8" x2="218.4" y2="434.8" stroke="#555" stroke-width="0.7"/>
<text x="215.4" y="437.3" font-size="7" text-anchor="end" stroke="#1a1a1a" stroke-width="0.25">2000</text>
<line x1="218.4" y1="534" x2="317.7" y2="534" stroke="#555" stroke-width="0.7"/>
<line x1="233.3" y1="534" x2="233.3" y2="537" stroke="#555" stroke-width="0.7"/>
<line x1="256.4" y1="534" x2="256.4" y2="537" stroke="#555" stroke-width="0.7"/>
<line x1="279.2" y1="534" x2="279.2" y2="537" stroke="#555" stroke-width="0.7"/>
<line x1="302.3" y1="534" x2="302.3" y2="537" stroke="#555" stroke-width="0.7"/>
<text x="190.8" y="485.7" font-size="7.3" text-anchor="middle" stroke="#1a1a1a" stroke-width="0.25" transform="rotate(-90 190.8 485.7)" textLength="77" lengthAdjust="spacingAndGlyphs">Migrated cell numbers</text>
<path d="M233.6,514.5 L233.9,514.5 L235.1,516 L235.8,517.5 L240.6,518.6 L238.6,519.6 L235.6,520.8 L233.9,521.8 L233.3,521.8 L231.6,520.8 L228.6,519.6 L226.6,518.6 L231.4,517.5 L232.1,516 L233.3,514.5 Z" fill="#8a8a8a" stroke="#5a5a5a" stroke-width="0.5"/>
<path d="M256.5,516.3 L256.8,516.3 L260.5,517.8 L263.5,518.8 L262,520 L259.5,521 L256.8,522 L256.2,522 L253.5,521 L251,520 L249.5,518.8 L252.5,517.8 L256.2,516.3 Z" fill="#8a8a8a" stroke="#5a5a5a" stroke-width="0.5"/>
<path d="M279.6,460.5 L279.9,460.5 L281.1,462 L284.6,463.5 L286.6,464.6 L284.1,466 L281.6,467.2 L282.4,468.5 L282.1,470 L281.1,471.8 L279.8,473.4 L279.4,473.4 L278.1,471.8 L277.1,470 L276.8,468.5 L277.6,467.2 L275.1,466 L272.6,464.6 L274.6,463.5 L278.1,462 L279.3,460.5 Z" fill="#8a8a8a" stroke="#5a5a5a" stroke-width="0.5"/>
<rect x="295.2" y="532.8" width="13.8" height="0.9" fill="#666"/>
<line x1="238.3" y1="447.5" x2="279.2" y2="447.5" stroke="#666" stroke-width="0.6"/>
<text x="258.8" y="448.6" font-size="7.8" text-anchor="middle" stroke="#1a1a1a" stroke-width="0.25">***</text>
<line x1="258.2" y1="513.5" x2="302.8" y2="513.5" stroke="#666" stroke-width="0.6"/>
<text x="280.6" y="514.6" font-size="7.8" text-anchor="middle" stroke="#1a1a1a" stroke-width="0.25">***</text>
<text x="236.9" y="542.2" font-size="7.6" text-anchor="end" stroke="#1a1a1a" stroke-width="0.25" transform="rotate(-52 236.9 542.2)">OE-Ctrl-A375</text>
<text x="260" y="542.2" font-size="7.6" text-anchor="end" stroke="#1a1a1a" stroke-width="0.25" transform="rotate(-52 260 542.2)">KD-Ctrl-A375</text>
<text x="282.8" y="542.2" font-size="7.6" text-anchor="end" stroke="#1a1a1a" stroke-width="0.25" transform="rotate(-52 282.8 542.2)">ROCK2-OE-A375</text>
<text x="305.9" y="542.2" font-size="7.6" text-anchor="end" stroke="#1a1a1a" stroke-width="0.25" transform="rotate(-52 305.9 542.2)">ROCK2-KD-A375</text>
<text x="342.6" y="431.9" font-size="17" fill="#000" font-weight="bold">j</text>
<text x="442.1" y="435.2" font-size="7.8" stroke="#1a1a1a" stroke-width="0.25" textLength="101.7" lengthAdjust="spacingAndGlyphs">Angiogenesis related genes</text>
<line x1="359.1" y1="448.3" x2="359.1" y2="554.5" stroke="#555" stroke-width="0.7"/>
<line x1="357.1" y1="554.5" x2="359.1" y2="554.5" stroke="#555" stroke-width="0.7"/>
<text x="356.4" y="557" font-size="7" text-anchor="end" stroke="#1a1a1a" stroke-width="0.25">0</text>
<line x1="357.1" y1="519.1" x2="359.1" y2="519.1" stroke="#555" stroke-width="0.7"/>
<text x="356.4" y="521.6" font-size="7" text-anchor="end" stroke="#1a1a1a" stroke-width="0.25">1</text>
<line x1="357.1" y1="483.7" x2="359.1" y2="483.7" stroke="#555" stroke-width="0.7"/>
<text x="356.4" y="486.2" font-size="7" text-anchor="end" stroke="#1a1a1a" stroke-width="0.25">2</text>
<line x1="357.1" y1="448.3" x2="359.1" y2="448.3" stroke="#555" stroke-width="0.7"/>
<text x="356.4" y="450.8" font-size="7" text-anchor="end" stroke="#1a1a1a" stroke-width="0.25">3</text>
<line x1="359.1" y1="554.5" x2="650.5" y2="554.5" stroke="#555" stroke-width="0.7"/>
<text x="345.8" y="502" font-size="7" text-anchor="middle" stroke="#1a1a1a" stroke-width="0.25" transform="rotate(-90 345.8 502)" textLength="64" lengthAdjust="spacingAndGlyphs">Relative mRNA level</text>
<rect x="365.2" y="474.14" width="6.6" height="80.36" fill="#b0392e"/>
<line x1="368.5" y1="471.31" x2="368.5" y2="474.14" stroke="#888" stroke-width="0.6"/>
<line x1="366.9" y1="471.31" x2="370.1" y2="471.31" stroke="#888" stroke-width="0.6"/>
<rect x="377.9" y="508.83" width="6.6" height="45.67" fill="#a3a4a6"/>
<line x1="381.2" y1="496.44" x2="381.2" y2="508.83" stroke="#888" stroke-width="0.6"/>
<line x1="379.6" y1="496.44" x2="382.8" y2="496.44" stroke="#888" stroke-width="0.6"/>
<rect x="390.6" y="553.08" width="6.6" height="1.42" fill="#4b8584"/>
<rect x="403.3" y="508.83" width="6.6" height="45.67" fill="#d4d6d0"/>
<line x1="406.6" y1="496.44" x2="406.6" y2="508.83" stroke="#888" stroke-width="0.6"/>
<line x1="405" y1="496.44" x2="408.2" y2="496.44" stroke="#888" stroke-width="0.6"/>
<line x1="368.5" y1="467.5" x2="381.2" y2="467.5" stroke="#333" stroke-width="0.6"/>
<text x="374.9" y="468.3" font-size="7.6" text-anchor="middle" stroke="#1a1a1a" stroke-width="0.25">***</text>
<line x1="393.9" y1="491.2" x2="406.6" y2="491.2" stroke="#333" stroke-width="0.6"/>
<text x="400.2" y="492" font-size="7.6" text-anchor="middle" stroke="#1a1a1a" stroke-width="0.25">***</text>
<line x1="387.4" y1="554.5" x2="387.4" y2="556.5" stroke="#555" stroke-width="0.6"/>
<text x="387.4" y="565.4" font-size="7.6" text-anchor="middle" stroke="#1a1a1a" stroke-width="0.25">AKT2</text>
<rect x="423.6" y="478.04" width="6.6" height="76.46" fill="#b0392e"/>
<line x1="426.9" y1="475.91" x2="426.9" y2="478.04" stroke="#888" stroke-width="0.6"/>
<line x1="425.3" y1="475.91" x2="428.5" y2="475.91" stroke="#888" stroke-width="0.6"/>
<rect x="436.3" y="503.88" width="6.6" height="50.62" fill="#a3a4a6"/>
<line x1="439.6" y1="492.55" x2="439.6" y2="503.88" stroke="#888" stroke-width="0.6"/>
<line x1="438" y1="492.55" x2="441.2" y2="492.55" stroke="#888" stroke-width="0.6"/>
<rect x="449" y="553.79" width="6.6" height="0.71" fill="#4b8584"/>
<rect x="461.7" y="503.88" width="6.6" height="50.62" fill="#d4d6d0"/>
<line x1="465" y1="492.55" x2="465" y2="503.88" stroke="#888" stroke-width="0.6"/>
<line x1="463.4" y1="492.55" x2="466.6" y2="492.55" stroke="#888" stroke-width="0.6"/>
<line x1="426.9" y1="467.5" x2="439.6" y2="467.5" stroke="#333" stroke-width="0.6"/>
<text x="433.3" y="468.3" font-size="7.6" text-anchor="middle" stroke="#1a1a1a" stroke-width="0.25">***</text>
<line x1="452.3" y1="491.2" x2="465" y2="491.2" stroke="#333" stroke-width="0.6"/>
<text x="458.6" y="492" font-size="7.6" text-anchor="middle" stroke="#1a1a1a" stroke-width="0.25">***</text>
<line x1="445.8" y1="554.5" x2="445.8" y2="556.5" stroke="#555" stroke-width="0.6"/>
<text x="445.8" y="565.4" font-size="7.6" text-anchor="middle" stroke="#1a1a1a" stroke-width="0.25">PDGFRA</text>
<rect x="482.3" y="476.62" width="6.6" height="77.88" fill="#b0392e"/>
<line x1="485.6" y1="470.96" x2="485.6" y2="476.62" stroke="#888" stroke-width="0.6"/>
<line x1="484" y1="470.96" x2="487.2" y2="470.96" stroke="#888" stroke-width="0.6"/>
<rect x="495" y="513.79" width="6.6" height="40.71" fill="#a3a4a6"/>
<line x1="498.3" y1="508.48" x2="498.3" y2="513.79" stroke="#888" stroke-width="0.6"/>
<line x1="496.7" y1="508.48" x2="499.9" y2="508.48" stroke="#888" stroke-width="0.6"/>
<rect x="507.7" y="553.79" width="6.6" height="0.71" fill="#4b8584"/>
<rect x="520.4" y="513.79" width="6.6" height="40.71" fill="#d4d6d0"/>
<line x1="523.7" y1="508.48" x2="523.7" y2="513.79" stroke="#888" stroke-width="0.6"/>
<line x1="522.1" y1="508.48" x2="525.3" y2="508.48" stroke="#888" stroke-width="0.6"/>
<line x1="485.6" y1="467.5" x2="498.3" y2="467.5" stroke="#333" stroke-width="0.6"/>
<text x="492" y="468.3" font-size="7.6" text-anchor="middle" stroke="#1a1a1a" stroke-width="0.25">***</text>
<line x1="511" y1="491.2" x2="523.7" y2="491.2" stroke="#333" stroke-width="0.6"/>
<text x="517.3" y="492" font-size="7.6" text-anchor="middle" stroke="#1a1a1a" stroke-width="0.25">***</text>
<line x1="504.5" y1="554.5" x2="504.5" y2="556.5" stroke="#555" stroke-width="0.6"/>
<text x="504.5" y="565.4" font-size="7.6" text-anchor="middle" stroke="#1a1a1a" stroke-width="0.25">VEGF</text>
<rect x="542" y="470.96" width="6.6" height="83.54" fill="#b0392e"/>
<line x1="545.3" y1="470.25" x2="545.3" y2="470.96" stroke="#888" stroke-width="0.6"/>
<line x1="543.7" y1="470.25" x2="546.9" y2="470.25" stroke="#888" stroke-width="0.6"/>
<rect x="554.7" y="503.17" width="6.6" height="51.33" fill="#a3a4a6"/>
<line x1="558" y1="499.28" x2="558" y2="503.17" stroke="#888" stroke-width="0.6"/>
<line x1="556.4" y1="499.28" x2="559.6" y2="499.28" stroke="#888" stroke-width="0.6"/>
<rect x="567.4" y="553.08" width="6.6" height="1.42" fill="#4b8584"/>
<rect x="580.1" y="503.17" width="6.6" height="51.33" fill="#d4d6d0"/>
<line x1="583.4" y1="499.28" x2="583.4" y2="503.17" stroke="#888" stroke-width="0.6"/>
<line x1="581.8" y1="499.28" x2="585" y2="499.28" stroke="#888" stroke-width="0.6"/>
<line x1="545.3" y1="467.5" x2="558" y2="467.5" stroke="#333" stroke-width="0.6"/>
<text x="551.7" y="468.3" font-size="7.6" text-anchor="middle" stroke="#1a1a1a" stroke-width="0.25">***</text>
<line x1="570.7" y1="491.2" x2="583.4" y2="491.2" stroke="#333" stroke-width="0.6"/>
<text x="577" y="492" font-size="7.6" text-anchor="middle" stroke="#1a1a1a" stroke-width="0.25">***</text>
<line x1="564.2" y1="554.5" x2="564.2" y2="556.5" stroke="#555" stroke-width="0.6"/>
<text x="564.2" y="565.4" font-size="7.6" text-anchor="middle" stroke="#1a1a1a" stroke-width="0.25">CD34</text>
<rect x="602.1" y="473.43" width="6.6" height="81.07" fill="#b0392e"/>
<line x1="605.4" y1="467.77" x2="605.4" y2="473.43" stroke="#888" stroke-width="0.6"/>
<line x1="603.8" y1="467.77" x2="607" y2="467.77" stroke="#888" stroke-width="0.6"/>
<rect x="614.8" y="512.02" width="6.6" height="42.48" fill="#a3a4a6"/>
<line x1="618.1" y1="499.63" x2="618.1" y2="512.02" stroke="#888" stroke-width="0.6"/>
<line x1="616.5" y1="499.63" x2="619.7" y2="499.63" stroke="#888" stroke-width="0.6"/>
<rect x="627.5" y="552.38" width="6.6" height="2.12" fill="#4b8584"/>
<rect x="640.2" y="512.02" width="6.6" height="42.48" fill="#d4d6d0"/>
<line x1="643.5" y1="499.63" x2="643.5" y2="512.02" stroke="#888" stroke-width="0.6"/>
<line x1="641.9" y1="499.63" x2="645.1" y2="499.63" stroke="#888" stroke-width="0.6"/>
<line x1="605.4" y1="467.5" x2="618.1" y2="467.5" stroke="#333" stroke-width="0.6"/>
<text x="611.8" y="468.3" font-size="7.6" text-anchor="middle" stroke="#1a1a1a" stroke-width="0.25">***</text>
<line x1="630.8" y1="491.2" x2="643.5" y2="491.2" stroke="#333" stroke-width="0.6"/>
<text x="637.1" y="492" font-size="7.6" text-anchor="middle" stroke="#1a1a1a" stroke-width="0.25">***</text>
<line x1="624.3" y1="554.5" x2="624.3" y2="556.5" stroke="#555" stroke-width="0.6"/>
<text x="624.3" y="565.4" font-size="7.6" text-anchor="middle" stroke="#1a1a1a" stroke-width="0.25">CD105</text>
<rect x="362.4" y="449" width="9.2" height="4.8" fill="#b0392e"/>
<text x="376.4" y="454.2" font-size="7.3" stroke="#1a1a1a" stroke-width="0.25" textLength="58.3" lengthAdjust="spacingAndGlyphs">HMGB1-OE-A375</text>
<rect x="442.1" y="449" width="9.2" height="4.8" fill="#a3a4a6"/>
<text x="456.6" y="454.2" font-size="7.3" stroke="#1a1a1a" stroke-width="0.25" textLength="43.2" lengthAdjust="spacingAndGlyphs">OE-Ctrl-A375</text>
<rect x="507" y="449" width="9.2" height="4.8" fill="#4b8584"/>
<text x="521.8" y="454.2" font-size="7.3" stroke="#1a1a1a" stroke-width="0.25" textLength="56.5" lengthAdjust="spacingAndGlyphs">HMGB1-KD-A375</text>
<rect x="585.3" y="449" width="9.6" height="4.8" fill="#d4d6d0"/>
<text x="600.6" y="454.2" font-size="7.3" stroke="#1a1a1a" stroke-width="0.25" textLength="40.9" lengthAdjust="spacingAndGlyphs">KD-Ctrl-A375</text>
<text x="4.4" y="603.1" font-size="17" fill="#000" font-weight="bold">k</text>
<text x="87.5" y="604.9" font-size="7.3" text-anchor="middle" stroke="#1a1a1a" stroke-width="0.25" textLength="45.4" lengthAdjust="spacingAndGlyphs">A375 Migration</text>
<line x1="3.7" y1="609" x2="166.8" y2="609" stroke="#b0b0b0" stroke-width="1"/>
<text x="4.7" y="616.8" font-size="7.3" stroke="#1a1a1a" stroke-width="0.25" textLength="20.3" lengthAdjust="spacingAndGlyphs">sh-Ctrl</text>
<text x="92" y="616.8" font-size="7.3" stroke="#1a1a1a" stroke-width="0.25" textLength="31.5" lengthAdjust="spacingAndGlyphs">sh-HMGB1</text>
<rect x="3.9" y="619.4" width="76.2" height="55.7" fill="#000" filter="url(#tm4)"/>
<rect x="3.9" y="619.4" width="76.2" height="55.7" fill="#000" filter="url(#tms4)"/>
<rect x="90.1" y="619.4" width="75.4" height="55.7" fill="url(#gm5)"/>
<rect x="90.1" y="619.4" width="75.4" height="55.7" fill="#000" filter="url(#nm5a)"/>
<rect x="90.1" y="619.4" width="75.4" height="55.7" fill="#000" filter="url(#nm5b)"/>
<text x="3.9" y="685.1" font-size="7.3" stroke="#1a1a1a" stroke-width="0.25" textLength="67.6" lengthAdjust="spacingAndGlyphs">sh-HMGB1+HMGB1-wt</text>
<text x="92" y="685.1" font-size="7.3" stroke="#1a1a1a" stroke-width="0.25" textLength="72.2" lengthAdjust="spacingAndGlyphs">sh-HMGB1+HMGB1-mut</text>
<rect x="3.9" y="689.8" width="74.9" height="57" fill="#000" filter="url(#tm6)"/>
<rect x="3.9" y="689.8" width="74.9" height="57" fill="#000" filter="url(#tms6)"/>
<rect x="90.6" y="689.8" width="75.4" height="57" fill="#000" filter="url(#tm7)"/>
<rect x="90.6" y="689.8" width="75.4" height="57" fill="#000" filter="url(#tms7)"/>
<ellipse cx="33" cy="712" rx="1.4" ry="1.4" transform="rotate(0 33 712)" fill="#262640" opacity="0.85"/>
<ellipse cx="27" cy="724" rx="1.6" ry="1.6" transform="rotate(0 27 724)" fill="#262640" opacity="0.85"/>
<ellipse cx="73" cy="703" rx="1.6" ry="1.6" transform="rotate(0 73 703)" fill="#262640" opacity="0.85"/>
<ellipse cx="46" cy="719" rx="1.0" ry="1.0" transform="rotate(0 46 719)" fill="#262640" opacity="0.85"/>
<ellipse cx="119" cy="701" rx="0.8" ry="2.5" transform="rotate(40 119 701)" fill="#262640" opacity="0.85"/>
<ellipse cx="121" cy="716" rx="2.5" ry="7" transform="rotate(-40 121 716)" fill="#6060b0" opacity="0.35"/>
<line x1="151.9" y1="750.5" x2="165" y2="750.5" stroke="#222" stroke-width="0.6"/>
<text x="145.8" y="758.6" font-size="7.3" stroke="#1a1a1a" stroke-width="0.25" textLength="21.5" lengthAdjust="spacingAndGlyphs">200 μm</text>
<text x="181.6" y="603.6" font-size="17" fill="#000" font-weight="bold">l</text>
<rect x="189.9" y="600.9" width="9.9" height="5.4" fill="#cdb495"/>
<text x="202.3" y="606.2" font-size="7.2" stroke="#1a1a1a" stroke-width="0.25">KD-Ctrl-A375</text>
<rect x="189.9" y="610.23" width="9.9" height="5.4" fill="#4d7f7f"/>
<text x="202.3" y="615.53" font-size="7.2" stroke="#1a1a1a" stroke-width="0.25">HMGB1-KD-A375</text>
<rect x="189.9" y="619.56" width="9.9" height="5.4" fill="#aa3a2f"/>
<text x="202.3" y="624.86" font-size="7.2" stroke="#1a1a1a" stroke-width="0.25">HMGB1-KD-A375-with-HMGB1<tspan font-size="4" dy="-2.6">S100mut</tspan><tspan dy="2.6">-OE</tspan></text>
<rect x="189.9" y="628.89" width="9.9" height="5.4" fill="#d07a33"/>
<text x="202.3" y="634.19" font-size="7.2" stroke="#1a1a1a" stroke-width="0.25">HMGB1-KD-A375-with-HMGB1-OE</text>
<line x1="221.4" y1="640.8" x2="221.4" y2="745.5" stroke="#555" stroke-width="0.7"/>
<line x1="219.4" y1="745.5" x2="221.4" y2="745.5" stroke="#555" stroke-width="0.7"/>
<text x="218.4" y="748" font-size="7" text-anchor="end" stroke="#1a1a1a" stroke-width="0.25">0</text>
<line x1="219.4" y1="719.33" x2="221.4" y2="719.33" stroke="#555" stroke-width="0.7"/>
<text x="218.4" y="721.83" font-size="7" text-anchor="end" stroke="#1a1a1a" stroke-width="0.25">500</text>
<line x1="219.4" y1="693.15" x2="221.4" y2="693.15" stroke="#555" stroke-width="0.7"/>
<text x="218.4" y="695.65" font-size="7" text-anchor="end" stroke="#1a1a1a" stroke-width="0.25">1000</text>
<line x1="219.4" y1="666.97" x2="221.4" y2="666.97" stroke="#555" stroke-width="0.7"/>
<text x="218.4" y="669.47" font-size="7" text-anchor="end" stroke="#1a1a1a" stroke-width="0.25">1500</text>
<line x1="219.4" y1="640.8" x2="221.4" y2="640.8" stroke="#555" stroke-width="0.7"/>
<text x="218.4" y="643.3" font-size="7" text-anchor="end" stroke="#1a1a1a" stroke-width="0.25">2000</text>
<line x1="221.4" y1="745.5" x2="326.4" y2="745.5" stroke="#555" stroke-width="0.7"/>
<line x1="237" y1="745.5" x2="237" y2="748.5" stroke="#555" stroke-width="0.7"/>
<line x1="261.8" y1="745.5" x2="261.8" y2="748.5" stroke="#555" stroke-width="0.7"/>
<line x1="285.9" y1="745.5" x2="285.9" y2="748.5" stroke="#555" stroke-width="0.7"/>
<line x1="310.2" y1="745.5" x2="310.2" y2="748.5" stroke="#555" stroke-width="0.7"/>
<text x="194.5" y="693" font-size="7.3" text-anchor="middle" stroke="#1a1a1a" stroke-width="0.25" transform="rotate(-90 194.5 693)" textLength="77" lengthAdjust="spacingAndGlyphs">Migrated cell numbers</text>
<path d="M237,728.6 L237.3,728.6 L243.5,729.3 L245.5,730.2 L243.5,731.1 L237.3,731.8 L236.7,731.8 L230.5,731.1 L228.5,730.2 L230.5,729.3 L236.7,728.6 Z" fill="#cdb495" stroke="#cdb495" stroke-width="0.5"/>
<path d="M253,745.5 Q261.8,740.5 270.6,745.5 Z" fill="#4d7f7f"/>
<path d="M286.1,664 L286.5,664 L286.8,666 L287.7,667.3 L289.9,668.5 L292.3,670 L293.5,671.5 L293.4,673.5 L293.1,675.5 L293.6,677 L293.1,679 L293.5,680.5 L293.1,682 L291.3,683.5 L289.3,685.2 L287.5,686.8 L286.9,688 L286.5,690.4 L285.7,690.4 L285.3,688 L284.7,686.8 L282.9,685.2 L280.9,683.5 L279.1,682 L278.7,680.5 L279.1,679 L278.6,677 L279.1,675.5 L278.8,673.5 L278.7,671.5 L279.9,670 L282.3,668.5 L284.5,667.3 L285.4,666 L285.7,664 Z" fill="#aa3a2f" stroke="#aa3a2f" stroke-width="0.5"/>
<path d="M310.2,732.3 L310.5,732.3 L315.2,733 L318.4,733.9 L316.7,734.8 L310.5,735.5 L309.9,735.5 L303.7,734.8 L302,733.9 L305.2,733 L309.9,732.3 Z" fill="#d07a33" stroke="#d07a33" stroke-width="0.5"/>
<line x1="244" y1="655.5" x2="281.7" y2="655.5" stroke="#666" stroke-width="0.6"/>
<text x="262.8" y="656.6" font-size="7.8" text-anchor="middle" stroke="#1a1a1a" stroke-width="0.25">***</text>
<line x1="262.3" y1="717.5" x2="304" y2="717.5" stroke="#666" stroke-width="0.6"/>
<text x="283.1" y="718.6" font-size="7.8" text-anchor="middle" stroke="#1a1a1a" stroke-width="0.25">***</text>
<text x="334" y="603.1" font-size="17" fill="#000" font-weight="bold">m</text>
<text x="354.2" y="633.9" font-size="7.6" stroke="#1a1a1a" stroke-width="0.25" textLength="122.1" lengthAdjust="spacingAndGlyphs">Baseline characteristics of patients</text>
<rect x="336.3" y="640.4" width="157.1" height="13.2" fill="#d3e8e3"/>
<line x1="336.3" y1="640.6" x2="493.4" y2="640.6" stroke="#666" stroke-width="0.8"/>
<line x1="336.3" y1="653.6" x2="493.4" y2="653.6" stroke="#666" stroke-width="0.8"/>
<text x="337.9" y="649.6" font-size="7.3" stroke="#1a1a1a" stroke-width="0.25" textLength="44.5" lengthAdjust="spacingAndGlyphs">Characteristic</text>
<text x="396.2" y="649.6" font-size="7.3" stroke="#1a1a1a" stroke-width="0.25" textLength="95.9" lengthAdjust="spacingAndGlyphs">Validation cohort (n=20 pairs)</text>
<text x="337.9" y="672.7" font-size="7.3" stroke="#1a1a1a" stroke-width="0.25" textLength="36.2" lengthAdjust="spacingAndGlyphs">Proteomics</text>
<text x="432.2" y="672.7" font-size="7.3" stroke="#1a1a1a" stroke-width="0.25" textLength="26" lengthAdjust="spacingAndGlyphs">20 pairs</text>
<text x="337.9" y="694.3" font-size="7.3" stroke="#1a1a1a" stroke-width="0.25" textLength="64" lengthAdjust="spacingAndGlyphs">Phosphoproteomics</text>
<text x="432.2" y="694.3" font-size="7.3" stroke="#1a1a1a" stroke-width="0.25" textLength="26" lengthAdjust="spacingAndGlyphs">15 pairs</text>
<line x1="336.3" y1="705.3" x2="493.4" y2="705.3" stroke="#666" stroke-width="0.8"/>
<text x="500" y="602.7" font-size="17" fill="#000" font-weight="bold">n</text>
<text x="533.3" y="601.3" font-size="7.6" stroke="#1a1a1a" stroke-width="0.25" textLength="55.5" lengthAdjust="spacingAndGlyphs">ROCK2_protein</text>
<line x1="528.8" y1="609.4" x2="528.8" y2="696.8" stroke="#555" stroke-width="0.7"/>
<line x1="526.8" y1="609.4" x2="528.8" y2="609.4" stroke="#555" stroke-width="0.7"/>
<text x="525.8" y="611.9" font-size="7" text-anchor="end" stroke="#1a1a1a" stroke-width="0.25">0.5</text>
<line x1="526.8" y1="626.88" x2="528.8" y2="626.88" stroke="#555" stroke-width="0.7"/>
<text x="525.8" y="629.38" font-size="7" text-anchor="end" stroke="#1a1a1a" stroke-width="0.25">0.0</text>
<line x1="526.8" y1="644.36" x2="528.8" y2="644.36" stroke="#555" stroke-width="0.7"/>
<text x="525.8" y="646.86" font-size="7" text-anchor="end" stroke="#1a1a1a" stroke-width="0.25">-0.5</text>
<line x1="526.8" y1="661.84" x2="528.8" y2="661.84" stroke="#555" stroke-width="0.7"/>
<text x="525.8" y="664.34" font-size="7" text-anchor="end" stroke="#1a1a1a" stroke-width="0.25">-1.0</text>
<line x1="526.8" y1="679.32" x2="528.8" y2="679.32" stroke="#555" stroke-width="0.7"/>
<text x="525.8" y="681.82" font-size="7" text-anchor="end" stroke="#1a1a1a" stroke-width="0.25">-1.5</text>
<line x1="526.8" y1="696.8" x2="528.8" y2="696.8" stroke="#555" stroke-width="0.7"/>
<text x="525.8" y="699.3" font-size="7" text-anchor="end" stroke="#1a1a1a" stroke-width="0.25">-2.0</text>
<line x1="528.8" y1="696.8" x2="586.5" y2="696.8" stroke="#555" stroke-width="0.7"/>
<line x1="548.5" y1="696.8" x2="548.5" y2="699.3" stroke="#555" stroke-width="0.7"/>
<line x1="570.7" y1="696.8" x2="570.7" y2="699.3" stroke="#555" stroke-width="0.7"/>
<g stroke="#b785c4" stroke-width="0.9" fill="none"><rect x="541.3" y="634.6" width="14.2" height="22.2"/><line x1="541.3" y1="648.2" x2="555.5" y2="648.2"/><line x1="548.4" y1="634.6" x2="548.4" y2="619.1"/><line x1="548.4" y1="656.8" x2="548.4" y2="662.9"/><line x1="544.85" y1="619.1" x2="551.95" y2="619.1"/><line x1="544.85" y1="662.9" x2="551.95" y2="662.9"/></g>
<g stroke="#9b3a52" stroke-width="0.9" fill="none"><rect x="563.8" y="628.3" width="13.9" height="12.4"/><line x1="563.8" y1="634.6" x2="577.7" y2="634.6"/><line x1="570.75" y1="628.3" x2="570.75" y2="617.2"/><line x1="570.75" y1="640.7" x2="570.75" y2="653.2"/><line x1="567.27" y1="617.2" x2="574.23" y2="617.2"/><line x1="567.27" y1="653.2" x2="574.23" y2="653.2"/></g>
<line x1="548.5" y1="611.5" x2="570.7" y2="611.5" stroke="#444" stroke-width="0.6"/>
<text x="559.6" y="610.2" font-size="7" text-anchor="middle" stroke="#1a1a1a" stroke-width="0.25">*</text>
<text x="507.2" y="647.7" font-size="7.2" text-anchor="middle" stroke="#1a1a1a" stroke-width="0.25" transform="rotate(-90 507.2 647.7)">Log<tspan font-size="4.3" dy="1.5">10</tspan><tspan dy="-1.5">(fot)</tspan></text>
<text x="623.4" y="601.3" font-size="7.6" stroke="#1a1a1a" stroke-width="0.25" textLength="49.7" lengthAdjust="spacingAndGlyphs">HMGB1_phos</text>
<line x1="619.8" y1="609.4" x2="619.8" y2="696.8" stroke="#555" stroke-width="0.7"/>
<line x1="617.8" y1="609.4" x2="619.8" y2="609.4" stroke="#555" stroke-width="0.7"/>
<text x="616.8" y="611.9" font-size="7" text-anchor="end" stroke="#1a1a1a" stroke-width="0.25">7.0</text>
<line x1="617.8" y1="626.88" x2="619.8" y2="626.88" stroke="#555" stroke-width="0.7"/>
<text x="616.8" y="629.38" font-size="7" text-anchor="end" stroke="#1a1a1a" stroke-width="0.25">6.5</text>
<line x1="617.8" y1="644.36" x2="619.8" y2="644.36" stroke="#555" stroke-width="0.7"/>
<text x="616.8" y="646.86" font-size="7" text-anchor="end" stroke="#1a1a1a" stroke-width="0.25">6.0</text>
<line x1="617.8" y1="661.84" x2="619.8" y2="661.84" stroke="#555" stroke-width="0.7"/>
<text x="616.8" y="664.34" font-size="7" text-anchor="end" stroke="#1a1a1a" stroke-width="0.25">5.5</text>
<line x1="617.8" y1="679.32" x2="619.8" y2="679.32" stroke="#555" stroke-width="0.7"/>
<text x="616.8" y="681.82" font-size="7" text-anchor="end" stroke="#1a1a1a" stroke-width="0.25">5.0</text>
<line x1="617.8" y1="696.8" x2="619.8" y2="696.8" stroke="#555" stroke-width="0.7"/>
<text x="616.8" y="699.3" font-size="7" text-anchor="end" stroke="#1a1a1a" stroke-width="0.25">4.5</text>
<line x1="619.8" y1="696.8" x2="676.7" y2="696.8" stroke="#555" stroke-width="0.7"/>
<line x1="638.4" y1="696.8" x2="638.4" y2="699.3" stroke="#555" stroke-width="0.7"/>
<line x1="660.9" y1="696.8" x2="660.9" y2="699.3" stroke="#555" stroke-width="0.7"/>
<g stroke="#b785c4" stroke-width="0.9" fill="none"><rect x="631.8" y="622.7" width="13.8" height="53.3"/><line x1="631.8" y1="652.4" x2="645.6" y2="652.4"/><line x1="638.7" y1="622.7" x2="638.7" y2="621.9"/><line x1="638.7" y1="676" x2="638.7" y2="691.2"/><line x1="635.25" y1="621.9" x2="642.15" y2="621.9"/><line x1="635.25" y1="691.2" x2="642.15" y2="691.2"/></g>
<g stroke="#9b3a52" stroke-width="0.9" fill="none"><rect x="654" y="623.5" width="14.4" height="14.5"/><line x1="654" y1="624.1" x2="668.4" y2="624.1"/><line x1="661.2" y1="623.5" x2="661.2" y2="620.8"/><line x1="661.2" y1="638" x2="661.2" y2="642.7"/><line x1="657.6" y1="620.8" x2="664.8" y2="620.8"/><line x1="657.6" y1="642.7" x2="664.8" y2="642.7"/></g>
<line x1="638.7" y1="611.5" x2="660.9" y2="611.5" stroke="#444" stroke-width="0.6"/>
<text x="649.8" y="609.4" font-size="7" text-anchor="middle" stroke="#1a1a1a" stroke-width="0.25">ns</text>
<text x="602.4" y="652" font-size="7.2" text-anchor="middle" stroke="#1a1a1a" stroke-width="0.25" transform="rotate(-90 602.4 652)">Log<tspan font-size="4.3" dy="1.5">10</tspan><tspan dy="-1.5">(abundance)</tspan></text>
<rect x="504.7" y="705.2" width="4.3" height="4.3" fill="#b785c4"/>
<text x="510.3" y="709.5" font-size="6.6" stroke="#1a1a1a" stroke-width="0.12" textLength="80.4" lengthAdjust="spacingAndGlyphs">PM in validation cohort, n=20</text>
<rect x="504.7" y="715.8" width="4.3" height="4.3" fill="#9b3a52"/>
<text x="510.3" y="720.1" font-size="6.6" stroke="#1a1a1a" stroke-width="0.12">Metastasis melanoma</text>
<text x="510.3" y="727.6" font-size="6.6" stroke="#1a1a1a" stroke-width="0.12">in validation cohort, n=20</text>
<rect x="598.2" y="705.2" width="4.3" height="4.3" fill="#b785c4"/>
<text x="605.1" y="709.5" font-size="6.6" stroke="#1a1a1a" stroke-width="0.12" textLength="78.5" lengthAdjust="spacingAndGlyphs">PM in validation cohort, n=15</text>
<rect x="598.2" y="715.8" width="4.3" height="4.3" fill="#9b3a52"/>
<text x="605.1" y="720.1" font-size="6.6" stroke="#1a1a1a" stroke-width="0.12">Metastasis melanoma</text>
<text x="605.1" y="727.6" font-size="6.6" stroke="#1a1a1a" stroke-width="0.12">in validation cohort, n=15</text>
<text x="4.9" y="766" font-size="17" fill="#000" font-weight="bold">o</text>
<text x="14.1" y="778.7" font-size="7.3" stroke="#1a1a1a" stroke-width="0.25" font-style="italic">ROCK2<tspan font-size="4.2" dy="-2.6">Amp</tspan></text>
<circle cx="20.7" cy="791" r="5.1" fill="#fff" stroke="#333" stroke-width="0.4"/>
<circle cx="20.5" cy="790.8" r="3.6" fill="#d090d0"/>
<circle cx="19" cy="789.6" r="0.9" fill="#a04aa8"/>
<circle cx="21.7" cy="789.3" r="0.9" fill="#a04aa8"/>
<circle cx="19.7" cy="792" r="0.9" fill="#a04aa8"/>
<circle cx="22.1" cy="791.6" r="0.9" fill="#a04aa8"/>
<circle cx="20.5" cy="790.8" r="0.9" fill="#a04aa8"/>
<line x1="25.8" y1="792.5" x2="31.47" y2="796.25" stroke="#111" stroke-width="0.6"/>
<path d="M33.2,797.4 L30.6,797.24 L32.04,795.07 Z" fill="#111"/>
<ellipse cx="45.8" cy="800.6" rx="11.2" ry="5.6" fill="#c88a35" stroke="#555" stroke-width="0.35"/>
<ellipse cx="45.8" cy="799" rx="11.2" ry="5.6" fill="#dba04b" stroke="#555" stroke-width="0.35"/>
<ellipse cx="45.8" cy="797.8" rx="11.3" ry="5.6" fill="none" stroke="#444" stroke-width="0.35"/>
<circle cx="43.7" cy="794.3" r="3" fill="#e2b4e2"/>
<circle cx="43.7" cy="794.3" r="1.86" fill="#8e4c9e"/>
<circle cx="49.6" cy="797.1" r="3" fill="#e2b4e2"/>
<circle cx="49.6" cy="797.1" r="1.86" fill="#8e4c9e"/>
<text x="16.4" y="842" font-size="7.6" stroke="#1a1a1a" stroke-width="0.25" textLength="10.8" lengthAdjust="spacingAndGlyphs">WT</text>
<ellipse cx="45.3" cy="842.1" rx="11.2" ry="5.6" fill="#e3c28a" stroke="#555" stroke-width="0.35"/>
<ellipse cx="45.3" cy="840.5" rx="11.2" ry="5.6" fill="#f1d8a7" stroke="#555" stroke-width="0.35"/>
<ellipse cx="45.3" cy="839.3" rx="11.3" ry="5.6" fill="none" stroke="#444" stroke-width="0.35"/>
<circle cx="42.2" cy="834.6" r="3" fill="#e2b4e2"/>
<circle cx="42.2" cy="834.6" r="1.86" fill="#8e4c9e"/>
<circle cx="48.6" cy="837.4" r="3" fill="#e2b4e2"/>
<circle cx="48.6" cy="837.4" r="1.86" fill="#8e4c9e"/>
<text x="42.3" y="857" font-size="7.4" text-anchor="middle" stroke="#1a1a1a" stroke-width="0.25" textLength="63" lengthAdjust="spacingAndGlyphs">Primary tumor cells</text>
<text x="42.3" y="865.2" font-size="7.4" text-anchor="middle" stroke="#1a1a1a" stroke-width="0.25" textLength="67" lengthAdjust="spacingAndGlyphs">isolated from patient</text>
<line x1="80.2" y1="787.4" x2="80.2" y2="847.4" stroke="#555" stroke-width="0.8"/>
<line x1="77.6" y1="787.4" x2="80.2" y2="787.4" stroke="#555" stroke-width="0.8"/>
<line x1="77.6" y1="847.4" x2="80.2" y2="847.4" stroke="#555" stroke-width="0.8"/>
<line x1="82.9" y1="818.5" x2="89.68" y2="818.5" stroke="#111" stroke-width="0.7"/>
<path d="M92.4,818.5 L89.46,820.2 L89.46,816.8 Z" fill="#111"/>
<path d="M95.3,806.6 L103.3,806.6 L102.5,817.6 L99.3,822.6 L96.1,817.6 Z" fill="#f6f6f6" stroke="#666" stroke-width="0.45"/>
<line x1="94.3" y1="806.6" x2="104.3" y2="806.6" stroke="#222" stroke-width="1"/>
<circle cx="97.7" cy="814.6" r="1.8" fill="#c87048"/>
<circle cx="98.3" cy="818.1" r="1.7" fill="#6a6a6a"/>
<path d="M97.6,811 L105.6,811 L104.8,822 L101.6,827 L98.4,822 Z" fill="#f6f6f6" stroke="#666" stroke-width="0.45"/>
<line x1="96.6" y1="811" x2="106.6" y2="811" stroke="#222" stroke-width="1"/>
<circle cx="100" cy="819" r="1.8" fill="#d07850"/>
<circle cx="100.6" cy="822.5" r="1.7" fill="#6a6a6a"/>
<path d="M101.2,815.3 L109.2,815.3 L108.4,826.3 L105.2,831.3 L102,826.3 Z" fill="#f6f6f6" stroke="#666" stroke-width="0.45"/>
<line x1="100.2" y1="815.3" x2="110.2" y2="815.3" stroke="#222" stroke-width="1"/>
<circle cx="103.6" cy="823.3" r="1.8" fill="#c06a40"/>
<circle cx="104.2" cy="826.8" r="1.7" fill="#6a6a6a"/>
<text x="103.6" y="794.8" font-size="6.8" stroke="#1a1a1a" stroke-width="0.25" textLength="57.9" lengthAdjust="spacingAndGlyphs">Whole cell protein</text>
<text x="88.5" y="839.6" font-size="7.4" stroke="#1a1a1a" stroke-width="0.25" textLength="35.6" lengthAdjust="spacingAndGlyphs">Cell pellets</text>
<line x1="113.3" y1="818.5" x2="119.58" y2="818.5" stroke="#111" stroke-width="0.7"/>
<path d="M122.3,818.5 L119.36,820.2 L119.36,816.8 Z" fill="#111"/>
<circle cx="127.6" cy="819.2" r="2.3" fill="#f2c78a"/>
<circle cx="129.6" cy="816.4" r="1.8" fill="#e07840"/>
<circle cx="131.8" cy="819.6" r="2.5" fill="#cf5a2e"/>
<circle cx="134.6" cy="817.6" r="2.4" fill="#e88a48"/>
<circle cx="136.6" cy="820.2" r="2.4" fill="#c9522a"/>
<circle cx="139.2" cy="818.2" r="2.4" fill="#f2c890"/>
<circle cx="140" cy="821" r="1.8" fill="#e0804a"/>
<text x="138.1" y="805.5" font-size="7.4" stroke="#1a1a1a" stroke-width="0.25" textLength="22.9" lengthAdjust="spacingAndGlyphs">Trypsin</text>
<text x="137" y="813.1" font-size="7.4" stroke="#1a1a1a" stroke-width="0.25" textLength="28.4" lengthAdjust="spacingAndGlyphs">digestion</text>
<line x1="147.2" y1="818.5" x2="153.48" y2="818.5" stroke="#111" stroke-width="0.7"/>
<path d="M156.2,818.5 L153.26,820.2 L153.26,816.8 Z" fill="#111"/>
<path d="M163,821 C162,816 168,814 172,817 C176,820 175,826 171,827.5 C167,828.5 164,824 166,820 L174.5,810 L172.5,818 M169,816 C173,813 177,813 177.5,817 C178,821 174,824 170,822 M162.5,822 L177,818.5" fill="none" stroke="#4a9a88" stroke-width="1"/>
<ellipse cx="175" cy="815.5" rx="2" ry="2.6" fill="#4a9a88"/>
<text x="172.3" y="836.5" font-size="7.4" text-anchor="middle" stroke="#1a1a1a" stroke-width="0.25" textLength="28.2" lengthAdjust="spacingAndGlyphs">Peptides</text>
<line x1="183.9" y1="818.4" x2="190.38" y2="818.4" stroke="#111" stroke-width="0.7"/>
<path d="M193.1,818.4 L190.16,820.1 L190.16,816.7 Z" fill="#111"/>
<text x="190.2" y="808.9" font-size="7.4" stroke="#1a1a1a" stroke-width="0.25" textLength="27.9" lengthAdjust="spacingAndGlyphs">Peptides</text>
<ellipse cx="203.5" cy="815" rx="5.3" ry="2" fill="none" stroke="#e06a3a" stroke-width="0.8"/>
<circle cx="206.6" cy="818.2" r="2.1" fill="#d85a2a"/>
<circle cx="205.2" cy="815.4" r="1.3" fill="#d85a2a"/>
<path d="M200.5,815.8 L201.4,822.6 M203.2,817 L202,822.8 M204.5,819 L206.5,822.5" fill="none" stroke="#333" stroke-width="0.7"/>
<line x1="198" y1="823.3" x2="209.5" y2="823.3" stroke="#444" stroke-width="0.8"/>
<line x1="203" y1="823.3" x2="203.6" y2="826.6" stroke="#444" stroke-width="0.7"/>
<line x1="214.2" y1="818.4" x2="220.38" y2="818.4" stroke="#111" stroke-width="0.7"/>
<path d="M223.1,818.4 L220.16,820.1 L220.16,816.7 Z" fill="#111"/>
<path d="M228,818.4 C235,813 238,812.5 242.8,812.5 C247.6,812.5 250.6,813 257.5,818.4 C250.6,823.8 247.6,824.3 242.8,824.3 C238,824.3 235,823.8 228,818.4 Z" fill="#e4dcee" stroke="#666" stroke-width="0.4"/>
<path d="M232,818.4 C236,815.3 240,814.8 242.8,814.8 C245.6,814.8 249.6,815.3 253.5,818.4 C249.6,821.5 245.6,822 242.8,822 C240,822 236,821.5 232,818.4 Z" fill="#c8b8e0" stroke="#888" stroke-width="0.3"/>
<ellipse cx="239.6" cy="818.4" rx="3.8" ry="3.4" fill="#8c68b8" stroke="#333" stroke-width="0.4"/>
<ellipse cx="246" cy="818.4" rx="3.8" ry="3.4" fill="#8c68b8" stroke="#333" stroke-width="0.4"/>
<line x1="234" y1="818.4" x2="252" y2="818.4" stroke="#d8c8f0" stroke-width="0.6"/>
<text x="218.1" y="836.1" font-size="7.4" stroke="#1a1a1a" stroke-width="0.25" textLength="48.6" lengthAdjust="spacingAndGlyphs">Mass spectrum</text>
<text x="242.4" y="844.2" font-size="7.4" text-anchor="middle" stroke="#1a1a1a" stroke-width="0.25" textLength="27.5" lengthAdjust="spacingAndGlyphs">analysis</text>
<text x="272.8" y="768" font-size="17" fill="#000" font-weight="bold">p</text>
<text x="293.7" y="763" font-size="7.6" stroke="#1a1a1a" stroke-width="0.25" font-style="italic">ROCK2<tspan font-size="4.2" dy="-2.6">Amp</tspan></text>
<text x="346.9" y="763.2" font-size="7.6" text-anchor="middle" stroke="#1a1a1a" stroke-width="0.25">WT</text>
<rect x="293.7" y="766.7" width="10.6" height="10.96" fill="#e39a9a" stroke="#3a3a3a" stroke-width="0.45"/><rect x="304.3" y="766.7" width="10.6" height="10.96" fill="#cc3434" stroke="#3a3a3a" stroke-width="0.45"/><rect x="314.9" y="766.7" width="10.6" height="10.96" fill="#e4a4a4" stroke="#3a3a3a" stroke-width="0.45"/><rect x="325.5" y="766.7" width="10.6" height="10.96" fill="#8ba2d1" stroke="#3a3a3a" stroke-width="0.45"/><rect x="336.1" y="766.7" width="10.6" height="10.96" fill="#8ea4d2" stroke="#3a3a3a" stroke-width="0.45"/><rect x="346.7" y="766.7" width="10.6" height="10.96" fill="#9fb1d9" stroke="#3a3a3a" stroke-width="0.45"/><rect x="293.7" y="777.66" width="10.6" height="10.96" fill="#cc3636" stroke="#3a3a3a" stroke-width="0.45"/><rect x="304.3" y="777.66" width="10.6" height="10.96" fill="#d97a7a" stroke="#3a3a3a" stroke-width="0.45"/><rect x="314.9" y="777.66" width="10.6" height="10.96" fill="#ebb6b6" stroke="#3a3a3a" stroke-width="0.45"/><rect x="325.5" y="777.66" width="10.6" height="10.96" fill="#98abd5" stroke="#3a3a3a" stroke-width="0.45"/><rect x="336.1" y="777.66" width="10.6" height="10.96" fill="#8fa5d2" stroke="#3a3a3a" stroke-width="0.45"/><rect x="346.7" y="777.66" width="10.6" height="10.96" fill="#9eb0d8" stroke="#3a3a3a" stroke-width="0.45"/><rect x="293.7" y="788.62" width="10.6" height="10.96" fill="#cc3535" stroke="#3a3a3a" stroke-width="0.45"/><rect x="304.3" y="788.62" width="10.6" height="10.96" fill="#ebbaba" stroke="#3a3a3a" stroke-width="0.45"/><rect x="314.9" y="788.62" width="10.6" height="10.96" fill="#e5a3a3" stroke="#3a3a3a" stroke-width="0.45"/><rect x="325.5" y="788.62" width="10.6" height="10.96" fill="#8aa0d0" stroke="#3a3a3a" stroke-width="0.45"/><rect x="336.1" y="788.62" width="10.6" height="10.96" fill="#cad3ea" stroke="#3a3a3a" stroke-width="0.45"/><rect x="346.7" y="788.62" width="10.6" height="10.96" fill="#9aacd6" stroke="#3a3a3a" stroke-width="0.45"/><rect x="293.7" y="799.59" width="10.6" height="10.96" fill="#cc3434" stroke="#3a3a3a" stroke-width="0.45"/><rect x="304.3" y="799.59" width="10.6" height="10.96" fill="#d35e5e" stroke="#3a3a3a" stroke-width="0.45"/><rect x="314.9" y="799.59" width="10.6" height="10.96" fill="#ffffff" stroke="#3a3a3a" stroke-width="0.45"/><rect x="325.5" y="799.59" width="10.6" height="10.96" fill="#d3dbee" stroke="#3a3a3a" stroke-width="0.45"/><rect x="336.1" y="799.59" width="10.6" height="10.96" fill="#97a9d4" stroke="#3a3a3a" stroke-width="0.45"/><rect x="346.7" y="799.59" width="10.6" height="10.96" fill="#9fb0d8" stroke="#3a3a3a" stroke-width="0.45"/><rect x="293.7" y="810.55" width="10.6" height="10.96" fill="#d87272" stroke="#3a3a3a" stroke-width="0.45"/><rect x="304.3" y="810.55" width="10.6" height="10.96" fill="#d97777" stroke="#3a3a3a" stroke-width="0.45"/><rect x="314.9" y="810.55" width="10.6" height="10.96" fill="#cc3535" stroke="#3a3a3a" stroke-width="0.45"/><rect x="325.5" y="810.55" width="10.6" height="10.96" fill="#b0bfe0" stroke="#3a3a3a" stroke-width="0.45"/><rect x="336.1" y="810.55" width="10.6" height="10.96" fill="#98aad4" stroke="#3a3a3a" stroke-width="0.45"/><rect x="346.7" y="810.55" width="10.6" height="10.96" fill="#8ba2d1" stroke="#3a3a3a" stroke-width="0.45"/><rect x="293.7" y="821.51" width="10.6" height="10.96" fill="#e29a9a" stroke="#3a3a3a" stroke-width="0.45"/><rect x="304.3" y="821.51" width="10.6" height="10.96" fill="#ebbdbd" stroke="#3a3a3a" stroke-width="0.45"/><rect x="314.9" y="821.51" width="10.6" height="10.96" fill="#cc3030" stroke="#3a3a3a" stroke-width="0.45"/><rect x="325.5" y="821.51" width="10.6" height="10.96" fill="#97a9d4" stroke="#3a3a3a" stroke-width="0.45"/><rect x="336.1" y="821.51" width="10.6" height="10.96" fill="#c9d2ea" stroke="#3a3a3a" stroke-width="0.45"/><rect x="346.7" y="821.51" width="10.6" height="10.96" fill="#a0b1d8" stroke="#3a3a3a" stroke-width="0.45"/><rect x="293.7" y="832.48" width="10.6" height="10.96" fill="#d87070" stroke="#3a3a3a" stroke-width="0.45"/><rect x="304.3" y="832.48" width="10.6" height="10.96" fill="#cc4040" stroke="#3a3a3a" stroke-width="0.45"/><rect x="314.9" y="832.48" width="10.6" height="10.96" fill="#e29494" stroke="#3a3a3a" stroke-width="0.45"/><rect x="325.5" y="832.48" width="10.6" height="10.96" fill="#cbd4ea" stroke="#3a3a3a" stroke-width="0.45"/><rect x="336.1" y="832.48" width="10.6" height="10.96" fill="#6b86c4" stroke="#3a3a3a" stroke-width="0.45"/><rect x="346.7" y="832.48" width="10.6" height="10.96" fill="#c3cde7" stroke="#3a3a3a" stroke-width="0.45"/><rect x="293.7" y="843.44" width="10.6" height="10.96" fill="#e08e8e" stroke="#3a3a3a" stroke-width="0.45"/><rect x="304.3" y="843.44" width="10.6" height="10.96" fill="#ebbaba" stroke="#3a3a3a" stroke-width="0.45"/><rect x="314.9" y="843.44" width="10.6" height="10.96" fill="#cc3030" stroke="#3a3a3a" stroke-width="0.45"/><rect x="325.5" y="843.44" width="10.6" height="10.96" fill="#97a9d4" stroke="#3a3a3a" stroke-width="0.45"/><rect x="336.1" y="843.44" width="10.6" height="10.96" fill="#a8b8dc" stroke="#3a3a3a" stroke-width="0.45"/><rect x="346.7" y="843.44" width="10.6" height="10.96" fill="#98a9d4" stroke="#3a3a3a" stroke-width="0.45"/>
<text x="359.6" y="774.88" font-size="7.6" stroke="#1a1a1a" stroke-width="0.25">ROCK2</text>
<text x="359.6" y="785.84" font-size="7.6" stroke="#1a1a1a" stroke-width="0.25">PGFRA</text>
<text x="359.6" y="796.81" font-size="7.6" stroke="#1a1a1a" stroke-width="0.25">VEGFA</text>
<text x="359.6" y="807.77" font-size="7.6" stroke="#1a1a1a" stroke-width="0.25">KIT</text>
<text x="359.6" y="818.73" font-size="7.6" stroke="#1a1a1a" stroke-width="0.25">HMGB1</text>
<text x="359.6" y="829.69" font-size="7.6" stroke="#1a1a1a" stroke-width="0.25">HMGA1</text>
<text x="359.6" y="840.66" font-size="7.6" stroke="#1a1a1a" stroke-width="0.25">VEGFB</text>
<text x="359.6" y="851.62" font-size="7.6" stroke="#1a1a1a" stroke-width="0.25">HSPB1</text>
<line x1="290.5" y1="767" x2="290.5" y2="854" stroke="#444" stroke-width="0.7"/>
<text x="286.8" y="808.8" font-size="7.4" text-anchor="middle" stroke="#1a1a1a" stroke-width="0.25" transform="rotate(-90 286.8 808.8)">angiogenesis</text>
<text x="304" y="860.2" font-size="7.5" text-anchor="end" stroke="#1a1a1a" stroke-width="0.25" transform="rotate(-45 304 860.2)">Rep1</text>
<text x="314.6" y="860.2" font-size="7.5" text-anchor="end" stroke="#1a1a1a" stroke-width="0.25" transform="rotate(-45 314.6 860.2)">Rep2</text>
<text x="325.2" y="860.2" font-size="7.5" text-anchor="end" stroke="#1a1a1a" stroke-width="0.25" transform="rotate(-45 325.2 860.2)">Rep3</text>
<text x="335.8" y="860.2" font-size="7.5" text-anchor="end" stroke="#1a1a1a" stroke-width="0.25" transform="rotate(-45 335.8 860.2)">Rep1</text>
<text x="346.4" y="860.2" font-size="7.5" text-anchor="end" stroke="#1a1a1a" stroke-width="0.25" transform="rotate(-45 346.4 860.2)">Rep2</text>
<text x="357" y="860.2" font-size="7.5" text-anchor="end" stroke="#1a1a1a" stroke-width="0.25" transform="rotate(-45 357 860.2)">Rep3</text>
<text x="363" y="864.6" font-size="7.4" stroke="#1a1a1a" stroke-width="0.25" textLength="36" lengthAdjust="spacingAndGlyphs">Zscore (fot)</text>
<rect x="364" y="868" width="32.8" height="6.3" fill="url(#gp)"/>
<text x="362.4" y="877.2" font-size="7" stroke="#1a1a1a" stroke-width="0.25" transform="rotate(90 362.4 877.2)">−1.5</text>
<text x="378.5" y="877.2" font-size="7" stroke="#1a1a1a" stroke-width="0.25" transform="rotate(90 378.5 877.2)">0</text>
<text x="392.8" y="877.2" font-size="7" stroke="#1a1a1a" stroke-width="0.25" transform="rotate(90 392.8 877.2)">1.5</text>
<text x="406.4" y="766.5" font-size="17" fill="#000" font-weight="bold">q</text>
<rect x="434.7" y="758.7" width="103.7" height="93.1" fill="#fff"/>
<line x1="443.7" y1="758.7" x2="443.7" y2="851.8" stroke="#f0f0f0" stroke-width="0.5"/>
<line x1="464.3" y1="758.7" x2="464.3" y2="851.8" stroke="#f0f0f0" stroke-width="0.5"/>
<line x1="484.9" y1="758.7" x2="484.9" y2="851.8" stroke="#f0f0f0" stroke-width="0.5"/>
<line x1="505.5" y1="758.7" x2="505.5" y2="851.8" stroke="#f0f0f0" stroke-width="0.5"/>
<line x1="526.1" y1="758.7" x2="526.1" y2="851.8" stroke="#f0f0f0" stroke-width="0.5"/>
<line x1="434.7" y1="841" x2="538.4" y2="841" stroke="#f0f0f0" stroke-width="0.5"/>
<line x1="434.7" y1="816.4" x2="538.4" y2="816.4" stroke="#f0f0f0" stroke-width="0.5"/>
<line x1="434.7" y1="791.8" x2="538.4" y2="791.8" stroke="#f0f0f0" stroke-width="0.5"/>
<line x1="434.7" y1="767.2" x2="538.4" y2="767.2" stroke="#f0f0f0" stroke-width="0.5"/>
<line x1="454" y1="758.7" x2="454" y2="851.8" stroke="#e2e2e2" stroke-width="0.6"/>
<line x1="474.6" y1="758.7" x2="474.6" y2="851.8" stroke="#e2e2e2" stroke-width="0.6"/>
<line x1="495.2" y1="758.7" x2="495.2" y2="851.8" stroke="#e2e2e2" stroke-width="0.6"/>
<line x1="515.8" y1="758.7" x2="515.8" y2="851.8" stroke="#e2e2e2" stroke-width="0.6"/>
<line x1="536.4" y1="758.7" x2="536.4" y2="851.8" stroke="#e2e2e2" stroke-width="0.6"/>
<line x1="434.7" y1="828.7" x2="538.4" y2="828.7" stroke="#e2e2e2" stroke-width="0.6"/>
<line x1="434.7" y1="804.1" x2="538.4" y2="804.1" stroke="#e2e2e2" stroke-width="0.6"/>
<line x1="434.7" y1="779.5" x2="538.4" y2="779.5" stroke="#e2e2e2" stroke-width="0.6"/>
<line x1="439.1" y1="758.7" x2="439.1" y2="851.8" stroke="#e0322f" stroke-width="1" stroke-dasharray="3,2"/>
<line x1="434.7" y1="848.5" x2="538.4" y2="848.5" stroke="#e0322f" stroke-width="1" stroke-dasharray="3,2"/>
<circle cx="517.1" cy="761.9" r="3.6" fill="none" stroke="#c9a096" stroke-width="0.45"/>
<circle cx="517.8" cy="766.1" r="3.6" fill="none" stroke="#c9a096" stroke-width="0.45"/>
<circle cx="533.5" cy="782.8" r="3.6" fill="none" stroke="#c9a096" stroke-width="0.45"/>
<circle cx="513.4" cy="787.7" r="3.6" fill="none" stroke="#c9a096" stroke-width="0.45"/>
<circle cx="513.4" cy="795.4" r="3.6" fill="none" stroke="#c9a096" stroke-width="0.45"/>
<circle cx="509.6" cy="798.9" r="3.6" fill="none" stroke="#c9a096" stroke-width="0.45"/>
<circle cx="524.8" cy="818.8" r="3.6" fill="none" stroke="#c9a096" stroke-width="0.45"/>
<circle cx="508.6" cy="822.7" r="3.6" fill="none" stroke="#c9a096" stroke-width="0.45"/>
<circle cx="512.1" cy="823.2" r="3.6" fill="none" stroke="#c9a096" stroke-width="0.45"/>
<circle cx="513.4" cy="824.5" r="3.6" fill="none" stroke="#c9a096" stroke-width="0.45"/>
<circle cx="517.8" cy="829.4" r="3.6" fill="none" stroke="#c9a096" stroke-width="0.45"/>
<circle cx="509.1" cy="838.1" r="3.6" fill="none" stroke="#c9a096" stroke-width="0.45"/>
<circle cx="514.1" cy="838.9" r="3.6" fill="none" stroke="#c9a096" stroke-width="0.45"/>
<circle cx="515.3" cy="836.9" r="3.6" fill="none" stroke="#c9a096" stroke-width="0.45"/>
<circle cx="511.6" cy="844.3" r="3.6" fill="none" stroke="#c9a096" stroke-width="0.45"/>
<circle cx="518.3" cy="845.6" r="3.6" fill="none" stroke="#c9a096" stroke-width="0.45"/>
<rect x="434.7" y="758.7" width="103.7" height="93.1" fill="none" stroke="#444" stroke-width="0.8"/>
<line x1="432.7" y1="828.7" x2="434.7" y2="828.7" stroke="#444" stroke-width="0.6"/>
<text x="431.7" y="831.3" font-size="7.3" text-anchor="end" fill="#333" stroke="#333" stroke-width="0.25">1.6</text>
<line x1="432.7" y1="804.1" x2="434.7" y2="804.1" stroke="#444" stroke-width="0.6"/>
<text x="431.7" y="806.7" font-size="7.3" text-anchor="end" fill="#333" stroke="#333" stroke-width="0.25">2.0</text>
<line x1="432.7" y1="779.5" x2="434.7" y2="779.5" stroke="#444" stroke-width="0.6"/>
<text x="431.7" y="782.1" font-size="7.3" text-anchor="end" fill="#333" stroke="#333" stroke-width="0.25">2.4</text>
<line x1="454" y1="851.8" x2="454" y2="853.8" stroke="#444" stroke-width="0.6"/>
<text x="454" y="861.1" font-size="7.3" text-anchor="middle" fill="#333" stroke="#333" stroke-width="0.25">5</text>
<line x1="474.6" y1="851.8" x2="474.6" y2="853.8" stroke="#444" stroke-width="0.6"/>
<text x="474.6" y="861.1" font-size="7.3" text-anchor="middle" fill="#333" stroke="#333" stroke-width="0.25">10</text>
<line x1="495.2" y1="851.8" x2="495.2" y2="853.8" stroke="#444" stroke-width="0.6"/>
<text x="495.2" y="861.1" font-size="7.3" text-anchor="middle" fill="#333" stroke="#333" stroke-width="0.25">15</text>
<line x1="515.8" y1="851.8" x2="515.8" y2="853.8" stroke="#444" stroke-width="0.6"/>
<text x="515.8" y="861.1" font-size="7.3" text-anchor="middle" fill="#333" stroke="#333" stroke-width="0.25">20</text>
<line x1="536.4" y1="851.8" x2="536.4" y2="853.8" stroke="#444" stroke-width="0.6"/>
<text x="536.4" y="861.1" font-size="7.3" text-anchor="middle" fill="#333" stroke="#333" stroke-width="0.25">25</text>
<text x="488.8" y="776.6" font-size="7.4" fill="#2e2e66" stroke="#2e2e66" stroke-width="0.25" textLength="44.7" lengthAdjust="spacingAndGlyphs">HMGB1/S100</text>
<line x1="527" y1="779" x2="532" y2="782" stroke="#333" stroke-width="0.5"/>
<text x="473.9" y="811.6" font-size="7.4" fill="#2e2e66" stroke="#2e2e66" stroke-width="0.25" textLength="47.6" lengthAdjust="spacingAndGlyphs">ROCK2/S1134</text>
<line x1="515" y1="813" x2="523" y2="817.5" stroke="#333" stroke-width="0.5"/>
<text x="465" y="832" font-size="7.4" fill="#2e2e66" stroke="#2e2e66" stroke-width="0.25" textLength="47.9" lengthAdjust="spacingAndGlyphs">ROCK2/S1366</text>
<line x1="505" y1="833.5" x2="511" y2="837" stroke="#333" stroke-width="0.5"/>
<text x="416.6" y="807" font-size="7.3" text-anchor="middle" stroke="#1a1a1a" stroke-width="0.25" transform="rotate(-90 416.6 807)">-Log<tspan font-size="4.3" dy="1.5">10</tspan><tspan dy="-1.5">(p value)</tspan></text>
<text x="427.7" y="871.2" font-size="7.4" stroke="#1a1a1a" stroke-width="0.25" textLength="119.2" lengthAdjust="spacingAndGlyphs">Log<tspan font-size="4.3" dy="1.5">2</tspan><tspan dy="-1.5">Fold change(</tspan><tspan font-style="italic">ROCK2</tspan><tspan font-size="4.2" dy="-2.6" font-style="italic">Amp</tspan><tspan dy="2.6"> vs WT)</tspan></text>
<text x="561.2" y="766.5" font-size="17" fill="#000" font-weight="bold">r</text>
<text x="579.2" y="760.3" font-size="8.4" stroke="#1a1a1a" stroke-width="0.25" font-style="italic" textLength="39.1" lengthAdjust="spacingAndGlyphs">ROCK2<tspan font-size="4.6" dy="-2.9">Amp</tspan></text>
<line x1="599" y1="762.6" x2="599" y2="771.8" stroke="#222" stroke-width="0.8"/>
<path d="M599,775 L597,771.54 L601,771.54 Z" fill="#222"/>
<text x="598.8" y="785.4" font-size="8.3" text-anchor="middle" stroke="#1a1a1a" stroke-width="0.25" textLength="28.5" lengthAdjust="spacingAndGlyphs">ROCK2</text>
<line x1="599" y1="788.1" x2="599" y2="797.4" stroke="#222" stroke-width="0.8"/>
<path d="M599,800.6 L597,797.14 L601,797.14 Z" fill="#222"/>
<text x="598.8" y="811.8" font-size="8.3" text-anchor="middle" stroke="#1a1a1a" stroke-width="0.25" textLength="29.9" lengthAdjust="spacingAndGlyphs">HMGB1</text>
<line x1="599" y1="814.6" x2="599" y2="823" stroke="#222" stroke-width="0.8"/>
<path d="M599,826.2 L597,822.74 L601,822.74 Z" fill="#222"/>
<text x="598.8" y="837" font-size="8.3" text-anchor="middle" stroke="#1a1a1a" stroke-width="0.25" textLength="34.9" lengthAdjust="spacingAndGlyphs">PDGFRA</text>
<text x="598.6" y="846.6" font-size="8.3" text-anchor="middle" stroke="#1a1a1a" stroke-width="0.25" textLength="50.8" lengthAdjust="spacingAndGlyphs">Angiogenesis</text>
<line x1="599" y1="851.2" x2="599" y2="859.4" stroke="#222" stroke-width="0.8"/>
<path d="M599,862.6 L597,859.14 L601,859.14 Z" fill="#222"/>
<text x="598.6" y="872.6" font-size="8.3" text-anchor="middle" stroke="#1a1a1a" stroke-width="0.25" textLength="40.2" lengthAdjust="spacingAndGlyphs">Metastasis</text>
<text x="598.9" y="882.1" font-size="8.3" text-anchor="middle" stroke="#1a1a1a" stroke-width="0.25" textLength="56.5" lengthAdjust="spacingAndGlyphs">Poor prognosis</text>
<line x1="621.9" y1="787" x2="621.9" y2="777.68" stroke="#c8232c" stroke-width="0.9"/>
<path d="M621.9,774 L624.2,777.98 L619.6,777.98 Z" fill="#c8232c"/>
<line x1="619.8" y1="814.5" x2="619.8" y2="804.68" stroke="#c8232c" stroke-width="0.9"/>
<path d="M619.8,801 L622.1,804.98 L617.5,804.98 Z" fill="#c8232c"/>
<line x1="630" y1="839.5" x2="630" y2="830.28" stroke="#c8232c" stroke-width="0.9"/>
<path d="M630,826.6 L632.3,830.58 L627.7,830.58 Z" fill="#c8232c"/>
</svg>
</body></html>
